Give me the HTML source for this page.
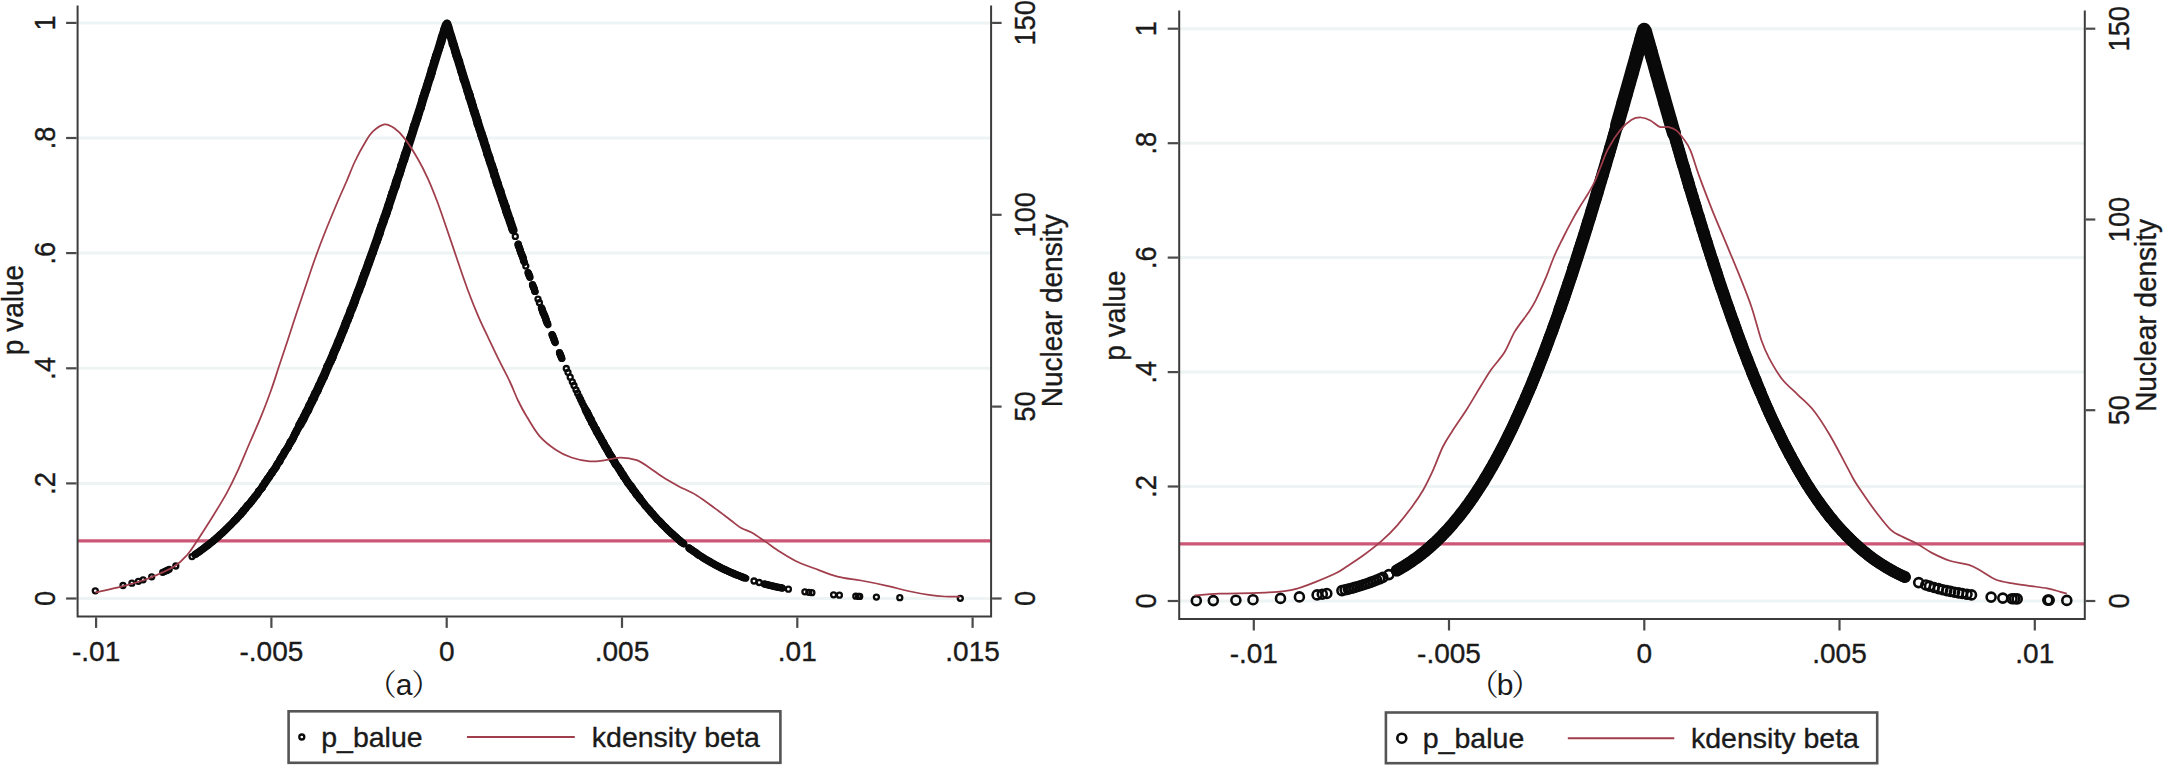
<!DOCTYPE html>
<html><head><meta charset="utf-8"><title>Placebo test</title>
<style>html,body{margin:0;padding:0;background:#fff}svg{display:block}</style>
</head><body>
<svg width="2165" height="766" viewBox="0 0 2165 766">
<rect width="2165" height="766" fill="#ffffff"/>
<g id="chart-a">
<line x1="77.6" y1="598.5" x2="991.1" y2="598.5" stroke="#eef3f3" stroke-width="3.0"/>
<line x1="77.6" y1="483.4" x2="991.1" y2="483.4" stroke="#eef3f3" stroke-width="3.0"/>
<line x1="77.6" y1="368.3" x2="991.1" y2="368.3" stroke="#eef3f3" stroke-width="3.0"/>
<line x1="77.6" y1="253.1" x2="991.1" y2="253.1" stroke="#eef3f3" stroke-width="3.0"/>
<line x1="77.6" y1="138.0" x2="991.1" y2="138.0" stroke="#eef3f3" stroke-width="3.0"/>
<line x1="77.6" y1="22.9" x2="991.1" y2="22.9" stroke="#eef3f3" stroke-width="3.0"/>
<line x1="77.6" y1="540.9" x2="991.1" y2="540.9" stroke="#cc5676" stroke-width="3.2"/>
<path d="M195.0 554.6 L196.0 553.9 L197.0 553.2 L198.0 552.5 L199.0 551.8 L200.0 551.1 L201.0 550.4 L202.0 549.7 L203.0 548.9 L204.0 548.2 L205.0 547.4 L206.0 546.7 L207.0 545.9 L208.0 545.1 L209.0 544.3 L210.0 543.5 L211.0 542.7 L212.0 541.9 L213.0 541.1 L214.0 540.2 L215.0 539.4 L216.0 538.5 L217.0 537.6 L218.0 536.8 L219.0 535.9 L220.0 535.0 L221.0 534.1 L222.0 533.1 L223.0 532.2 L224.0 531.3 L225.0 530.3 L226.0 529.4 L227.0 528.4 L228.0 527.4 L229.0 526.4 L230.0 525.4 L231.0 524.4 L232.0 523.4 L233.0 522.3 L234.0 521.3 L235.0 520.2" fill="none" stroke="#0a0a0a" stroke-width="6.6" stroke-linecap="round" stroke-linejoin="round"/>
<path d="M235.0 520.2 L236.0 519.2 L237.0 518.1 L238.0 517.0 L239.0 515.9 L240.0 514.8 L241.0 513.6 L242.0 512.5 L243.0 511.3 L244.0 510.2 L245.0 509.0 L246.0 507.8 L247.0 506.6 L248.0 505.4 L249.0 504.2 L250.0 503.0 L251.0 501.7 L252.0 500.5 L253.0 499.2 L254.0 497.9 L255.0 496.6 L256.0 495.3 L257.0 494.0 L258.0 492.7 L259.0 491.3 L260.0 490.0 L261.0 488.6 L262.0 487.2 L263.0 485.8 L264.0 484.4 L265.0 483.0 L266.0 481.6 L267.0 480.1 L268.0 478.7 L269.0 477.2 L270.0 475.7 L271.0 474.2 L272.0 472.7 L273.0 471.2 L274.0 469.6 L275.0 468.1 L276.0 466.5 L277.0 464.9 L278.0 463.3 L279.0 461.7 L280.0 460.1 L281.0 458.5 L282.0 456.9 L283.0 455.2 L284.0 453.5 L285.0 451.8 L286.0 450.1 L287.0 448.4 L288.0 446.7 L289.0 445.0 L290.0 443.2 L291.0 441.5 L292.0 439.7 L293.0 437.9 L294.0 436.1 L295.0 434.2 L296.0 432.4 L297.0 430.6 L298.0 428.7 L299.0 426.8 L300.0 424.9" fill="none" stroke="#0a0a0a" stroke-width="7.6" stroke-linecap="round" stroke-linejoin="round"/>
<path d="M300.0 424.9 L301.0 423.0 L302.0 421.1 L303.0 419.2 L304.0 417.2 L305.0 415.3 L306.0 413.3 L307.0 411.3 L308.0 409.3 L309.0 407.3 L310.0 405.3 L311.0 403.2 L312.0 401.2 L313.0 399.1 L314.0 397.0 L315.0 394.9 L316.0 392.8 L317.0 390.7 L318.0 388.6 L319.0 386.4 L320.0 384.2 L321.0 382.1 L322.0 379.9 L323.0 377.7 L324.0 375.4 L325.0 373.2 L326.0 371.0 L327.0 368.7 L328.0 366.4 L329.0 364.1 L330.0 361.8 L331.0 359.5 L332.0 357.2 L333.0 354.9 L334.0 352.5 L335.0 350.1 L336.0 347.8 L337.0 345.4 L338.0 343.0 L339.0 340.5 L340.0 338.1 L341.0 335.7 L342.0 333.2 L343.0 330.7 L344.0 328.2 L345.0 325.8 L346.0 323.2 L347.0 320.7 L348.0 318.2 L349.0 315.6 L350.0 313.1 L351.0 310.5 L352.0 307.9 L353.0 305.3 L354.0 302.7 L355.0 300.1 L356.0 297.5 L357.0 294.8 L358.0 292.2 L359.0 289.5 L360.0 286.8 L361.0 284.1 L362.0 281.4 L363.0 278.7 L364.0 276.0 L365.0 273.3 L366.0 270.5 L367.0 267.8 L368.0 265.0 L369.0 262.2 L370.0 259.4 L371.0 256.6 L372.0 253.8 L373.0 251.0 L374.0 248.2 L375.0 245.3 L376.0 242.5 L377.0 239.6 L378.0 236.7 L379.0 233.8 L380.0 231.0 L381.0 228.1 L382.0 225.1 L383.0 222.2 L384.0 219.3 L385.0 216.4 L386.0 213.4 L387.0 210.5 L388.0 207.5 L389.0 204.5 L390.0 201.5 L391.0 198.5 L392.0 195.5 L393.0 192.5 L394.0 189.5 L395.0 186.5 L396.0 183.5 L397.0 180.4 L398.0 177.4 L399.0 174.3 L400.0 171.3 L401.0 168.2 L402.0 165.1 L403.0 162.0 L404.0 159.0 L405.0 155.9 L406.0 152.8 L407.0 149.7 L408.0 146.5 L409.0 143.4 L410.0 140.3 L411.0 137.2 L412.0 134.0 L413.0 130.9 L414.0 127.7 L415.0 124.6 L416.0 121.4 L417.0 118.3 L418.0 115.1 L419.0 111.9 L420.0 108.8 L421.0 105.6 L422.0 102.4 L423.0 99.2 L424.0 96.0 L425.0 92.8 L426.0 89.6 L427.0 86.4 L428.0 83.2 L429.0 80.0 L430.0 76.8 L431.0 73.6 L432.0 70.4 L433.0 67.1 L434.0 63.9 L435.0 60.7 L436.0 57.5 L437.0 54.2 L438.0 51.0 L439.0 47.8 L440.0 44.6 L441.0 41.3 L442.0 38.1 L443.0 34.9 L444.0 31.6 L445.0 28.4 L446.0 25.2 L447.0 23.9 L448.0 27.1 L449.0 30.3 L450.0 33.6 L451.0 36.8 L452.0 40.0 L453.0 43.3 L454.0 46.5 L455.0 49.7 L456.0 53.0 L457.0 56.2 L458.0 59.4 L459.0 62.6 L460.0 65.9 L461.0 69.1 L462.0 72.3 L463.0 75.5 L464.0 78.7 L465.0 81.9 L466.0 85.1 L467.0 88.3 L468.0 91.5 L469.0 94.7 L470.0 97.9 L471.0 101.1 L472.0 104.3 L473.0 107.5 L474.0 110.7 L475.0 113.8 L476.0 117.0 L477.0 120.2 L478.0 123.3 L479.0 126.5 L480.0 129.6 L481.0 132.8 L482.0 135.9 L483.0 139.0 L484.0 142.2 L485.0 145.3 L486.0 148.4 L487.0 151.5 L488.0 154.6 L489.0 157.7 L490.0 160.8 L491.0 163.9 L492.0 167.0 L493.0 170.0 L494.0 173.1 L495.0 176.2 L496.0 179.2 L497.0 182.3 L498.0 185.3 L499.0 188.3 L500.0 191.3 L501.0 194.3 L502.0 197.3 L503.0 200.3 L504.0 203.3 L505.0 206.3 L506.0 209.3 L507.0 212.2 L508.0 215.2 L509.0 218.1 L510.0 221.1 L511.0 224.0 L512.0 226.9 L513.0 229.8 L513.2 230.4" fill="none" stroke="#0a0a0a" stroke-width="8.8" stroke-linecap="round" stroke-linejoin="round"/>
<path d="M518.0 244.2 L519.0 247.0 L520.0 249.9 L521.0 252.7 L522.0 255.5 L523.0 258.3 L524.0 261.1 L524.5 262.5" fill="none" stroke="#0a0a0a" stroke-width="7.0" stroke-linecap="round" stroke-linejoin="round"/>
<path d="M541.4 307.9 L542.4 310.5 L543.4 313.1 L544.4 315.6 L545.4 318.2 L546.4 320.7 L547.4 323.2 L548.0 324.8" fill="none" stroke="#0a0a0a" stroke-width="7.0" stroke-linecap="round" stroke-linejoin="round"/>
<path d="M552.0 334.7 L553.0 337.1 L554.0 339.6 L555.0 342.0 L555.3 342.7" fill="none" stroke="#0a0a0a" stroke-width="7.0" stroke-linecap="round" stroke-linejoin="round"/>
<path d="M528.2 272.7 L529.2 275.5 L529.9 277.4" fill="none" stroke="#0a0a0a" stroke-width="6.8" stroke-linecap="round" stroke-linejoin="round"/>
<path d="M532.6 284.7 L533.6 287.4 L534.6 290.0 L535.2 291.6" fill="none" stroke="#0a0a0a" stroke-width="6.8" stroke-linecap="round" stroke-linejoin="round"/>
<path d="M559.5 352.7 L560.5 355.1 L561.5 357.4 L562.0 358.6" fill="none" stroke="#0a0a0a" stroke-width="6.8" stroke-linecap="round" stroke-linejoin="round"/>
<path d="M585.8 410.1 L586.8 412.1 L587.8 414.1 L588.8 416.1 L589.8 418.0 L590.8 420.0 L591.8 421.9 L592.8 423.8 L593.8 425.7 L594.8 427.6 L595.8 429.4 L596.8 431.3 L597.8 433.1 L598.8 435.0 L599.8 436.8 L600.8 438.6 L601.8 440.4 L602.8 442.2 L603.8 443.9 L604.8 445.7 L605.8 447.4 L606.8 449.1 L607.8 450.8 L608.8 452.5 L609.8 454.2 L610.8 455.9 L611.8 457.5 L612.8 459.2 L613.8 460.8 L614.8 462.4 L615.8 464.0 L616.8 465.6 L617.8 467.1 L618.8 468.7 L619.8 470.2 L620.8 471.8 L621.8 473.3 L622.8 474.8 L623.8 476.3 L624.8 477.8 L625.8 479.2 L626.8 480.7 L627.8 482.1 L628.8 483.6 L629.8 485.0 L630.8 486.4 L631.8 487.8 L632.8 489.1 L633.8 490.5 L634.8 491.9 L635.8 493.2 L636.8 494.5 L637.8 495.8 L638.8 497.1 L639.8 498.4 L640.0 498.7" fill="none" stroke="#0a0a0a" stroke-width="8.0" stroke-linecap="round" stroke-linejoin="round"/>
<path d="M640.0 498.7 L641.0 500.0 L642.0 501.2 L643.0 502.5 L644.0 503.7 L645.0 504.9 L646.0 506.2 L647.0 507.4 L648.0 508.5 L649.0 509.7 L650.0 510.9 L651.0 512.0 L652.0 513.2 L653.0 514.3 L654.0 515.4 L655.0 516.5 L656.0 517.6 L657.0 518.7 L658.0 519.8 L659.0 520.9 L660.0 521.9 L661.0 523.0 L662.0 524.0 L663.0 525.0 L664.0 526.0 L665.0 527.0 L666.0 528.0 L667.0 529.0 L668.0 529.9 L669.0 530.9 L670.0 531.8 L671.0 532.8 L672.0 533.7 L673.0 534.6 L674.0 535.5 L675.0 536.4 L676.0 537.3 L677.0 538.2 L678.0 539.0 L679.0 539.9 L680.0 540.7 L681.0 541.6 L682.0 542.4 L683.0 543.2 L683.7 543.8" fill="none" stroke="#0a0a0a" stroke-width="7.3" stroke-linecap="round" stroke-linejoin="round"/>
<path d="M689.0 547.9 L690.0 548.6 L691.0 549.4 L692.0 550.1 L693.0 550.8 L694.0 551.5 L695.0 552.3 L696.0 552.9 L697.0 553.6 L698.0 554.3 L699.0 555.0 L700.0 555.7 L701.0 556.3 L702.0 557.0 L703.0 557.6 L704.0 558.2 L705.0 558.8 L706.0 559.5 L707.0 560.1 L708.0 560.7 L709.0 561.3 L710.0 561.8 L711.0 562.4 L712.0 563.0 L713.0 563.5 L714.0 564.1 L715.0 564.6 L716.0 565.2 L717.0 565.7 L718.0 566.2 L719.0 566.8 L720.0 567.3 L721.0 567.8 L722.0 568.3 L723.0 568.8 L724.0 569.2 L725.0 569.7 L726.0 570.2 L727.0 570.7 L728.0 571.1 L729.0 571.6 L730.0 572.0 L731.0 572.4 L732.0 572.9 L733.0 573.3 L734.0 573.7 L735.0 574.1 L736.0 574.6 L737.0 575.0 L738.0 575.4 L739.0 575.7 L740.0 576.1 L741.0 576.5 L742.0 576.9 L743.0 577.3 L744.0 577.6 L745.0 578.0 L746.0 578.3" fill="none" stroke="#0a0a0a" stroke-width="6.8" stroke-linecap="round" stroke-linejoin="round"/>
<path d="M764.4 584.0 L765.4 584.2 L766.4 584.5 L767.4 584.7 L768.4 585.0 L769.4 585.2 L770.4 585.5 L771.4 585.7 L772.4 585.9 L773.4 586.2 L774.4 586.4 L775.4 586.6 L776.4 586.9 L777.4 587.1 L778.4 587.3 L779.4 587.5 L780.4 587.7 L781.4 587.9 L782.4 588.1 L782.7 588.2" fill="none" stroke="#0a0a0a" stroke-width="6.5" stroke-linecap="round" stroke-linejoin="round"/>
<g fill="none" stroke="#0a0a0a" stroke-width="2.3">
<circle cx="194.9" cy="554.6" r="2.5"/>
<circle cx="195.9" cy="553.9" r="2.5"/>
<circle cx="197.2" cy="553.1" r="2.5"/>
<circle cx="198.1" cy="552.4" r="2.5"/>
<circle cx="199.3" cy="551.6" r="2.5"/>
<circle cx="200.3" cy="550.9" r="2.5"/>
<circle cx="201.2" cy="550.1" r="2.5"/>
<circle cx="202.5" cy="549.3" r="2.5"/>
<circle cx="203.3" cy="548.6" r="2.5"/>
<circle cx="204.5" cy="547.8" r="2.5"/>
<circle cx="205.4" cy="547.0" r="2.5"/>
<circle cx="206.5" cy="546.2" r="2.5"/>
<circle cx="207.6" cy="545.4" r="2.5"/>
<circle cx="208.8" cy="544.6" r="2.5"/>
<circle cx="209.5" cy="543.8" r="2.5"/>
<circle cx="210.6" cy="543.0" r="2.5"/>
<circle cx="211.8" cy="542.1" r="2.5"/>
<circle cx="212.9" cy="541.3" r="2.5"/>
<circle cx="213.7" cy="540.5" r="2.5"/>
<circle cx="214.7" cy="539.6" r="2.5"/>
<circle cx="215.9" cy="538.8" r="2.5"/>
<circle cx="216.5" cy="537.9" r="2.5"/>
<circle cx="217.8" cy="537.1" r="2.5"/>
<circle cx="218.6" cy="536.2" r="2.5"/>
<circle cx="219.5" cy="535.3" r="2.5"/>
<circle cx="220.4" cy="534.5" r="2.5"/>
<circle cx="221.5" cy="533.6" r="2.5"/>
<circle cx="222.6" cy="532.7" r="2.5"/>
<circle cx="223.3" cy="531.8" r="2.5"/>
<circle cx="224.4" cy="530.9" r="2.5"/>
<circle cx="225.4" cy="530.0" r="2.5"/>
<circle cx="226.2" cy="529.1" r="2.5"/>
<circle cx="227.2" cy="528.2" r="2.5"/>
<circle cx="228.0" cy="527.3" r="2.5"/>
<circle cx="228.9" cy="526.4" r="2.5"/>
<circle cx="229.9" cy="525.4" r="2.5"/>
<circle cx="231.0" cy="524.5" r="2.5"/>
<circle cx="231.8" cy="523.6" r="2.5"/>
<circle cx="232.6" cy="522.6" r="2.5"/>
<circle cx="233.6" cy="521.7" r="2.5"/>
<circle cx="234.5" cy="520.8" r="2.5"/>
<circle cx="234.8" cy="520.2" r="2.5"/>
<circle cx="236.2" cy="519.3" r="2.5"/>
<circle cx="237.0" cy="518.3" r="2.5"/>
<circle cx="237.4" cy="517.4" r="2.5"/>
<circle cx="238.6" cy="516.4" r="2.5"/>
<circle cx="239.4" cy="515.4" r="2.5"/>
<circle cx="240.7" cy="514.5" r="2.5"/>
<circle cx="241.4" cy="513.5" r="2.5"/>
<circle cx="241.7" cy="512.5" r="2.5"/>
<circle cx="243.4" cy="511.5" r="2.5"/>
<circle cx="243.2" cy="510.5" r="2.5"/>
<circle cx="244.5" cy="509.5" r="2.5"/>
<circle cx="245.7" cy="508.5" r="2.5"/>
<circle cx="245.8" cy="507.6" r="2.5"/>
<circle cx="247.1" cy="506.5" r="2.5"/>
<circle cx="247.3" cy="505.5" r="2.5"/>
<circle cx="248.9" cy="504.5" r="2.5"/>
<circle cx="249.9" cy="503.5" r="2.5"/>
<circle cx="250.5" cy="502.5" r="2.5"/>
<circle cx="251.6" cy="501.5" r="2.5"/>
<circle cx="251.8" cy="500.5" r="2.5"/>
<circle cx="253.0" cy="499.5" r="2.5"/>
<circle cx="253.7" cy="498.4" r="2.5"/>
<circle cx="254.5" cy="497.4" r="2.5"/>
<circle cx="255.1" cy="496.4" r="2.5"/>
<circle cx="256.4" cy="495.3" r="2.5"/>
<circle cx="257.3" cy="494.3" r="2.5"/>
<circle cx="257.5" cy="493.3" r="2.5"/>
<circle cx="258.5" cy="492.2" r="2.5"/>
<circle cx="258.6" cy="491.2" r="2.5"/>
<circle cx="260.1" cy="490.1" r="2.5"/>
<circle cx="260.8" cy="489.1" r="2.5"/>
<circle cx="262.0" cy="488.0" r="2.5"/>
<circle cx="262.6" cy="487.0" r="2.5"/>
<circle cx="262.7" cy="485.9" r="2.5"/>
<circle cx="263.6" cy="484.8" r="2.5"/>
<circle cx="264.7" cy="483.8" r="2.5"/>
<circle cx="264.6" cy="482.7" r="2.5"/>
<circle cx="265.9" cy="481.6" r="2.5"/>
<circle cx="266.3" cy="480.6" r="2.5"/>
<circle cx="267.0" cy="479.5" r="2.5"/>
<circle cx="267.6" cy="478.4" r="2.5"/>
<circle cx="269.2" cy="477.3" r="2.5"/>
<circle cx="269.2" cy="476.3" r="2.5"/>
<circle cx="270.1" cy="475.2" r="2.5"/>
<circle cx="270.9" cy="474.1" r="2.5"/>
<circle cx="272.2" cy="473.0" r="2.5"/>
<circle cx="272.0" cy="471.9" r="2.5"/>
<circle cx="273.2" cy="470.8" r="2.5"/>
<circle cx="274.0" cy="469.7" r="2.5"/>
<circle cx="275.1" cy="468.6" r="2.5"/>
<circle cx="275.7" cy="467.5" r="2.5"/>
<circle cx="276.5" cy="466.4" r="2.5"/>
<circle cx="276.5" cy="465.3" r="2.5"/>
<circle cx="277.3" cy="464.2" r="2.5"/>
<circle cx="278.0" cy="463.1" r="2.5"/>
<circle cx="279.3" cy="462.0" r="2.5"/>
<circle cx="280.1" cy="460.9" r="2.5"/>
<circle cx="279.8" cy="459.8" r="2.5"/>
<circle cx="280.5" cy="458.7" r="2.5"/>
<circle cx="281.2" cy="457.6" r="2.5"/>
<circle cx="281.9" cy="456.5" r="2.5"/>
<circle cx="282.9" cy="455.4" r="2.5"/>
<circle cx="283.7" cy="454.2" r="2.5"/>
<circle cx="284.0" cy="453.1" r="2.5"/>
<circle cx="284.3" cy="452.0" r="2.5"/>
<circle cx="285.5" cy="450.9" r="2.5"/>
<circle cx="286.1" cy="449.8" r="2.5"/>
<circle cx="287.0" cy="448.6" r="2.5"/>
<circle cx="288.1" cy="447.5" r="2.5"/>
<circle cx="288.4" cy="446.4" r="2.5"/>
<circle cx="288.9" cy="445.3" r="2.5"/>
<circle cx="289.6" cy="444.1" r="2.5"/>
<circle cx="290.3" cy="443.0" r="2.5"/>
<circle cx="290.2" cy="441.9" r="2.5"/>
<circle cx="291.9" cy="440.7" r="2.5"/>
<circle cx="292.4" cy="439.6" r="2.5"/>
<circle cx="293.1" cy="438.5" r="2.5"/>
<circle cx="293.7" cy="437.3" r="2.5"/>
<circle cx="293.8" cy="436.2" r="2.5"/>
<circle cx="294.4" cy="435.0" r="2.5"/>
<circle cx="294.7" cy="433.9" r="2.5"/>
<circle cx="296.0" cy="432.7" r="2.5"/>
<circle cx="295.9" cy="431.6" r="2.5"/>
<circle cx="296.5" cy="430.5" r="2.5"/>
<circle cx="297.3" cy="429.3" r="2.5"/>
<circle cx="297.9" cy="428.2" r="2.5"/>
<circle cx="298.7" cy="427.0" r="2.5"/>
<circle cx="299.0" cy="425.9" r="2.5"/>
<circle cx="299.0" cy="424.9" r="2.5"/>
<circle cx="299.9" cy="423.8" r="2.5"/>
<circle cx="300.4" cy="422.6" r="2.5"/>
<circle cx="301.5" cy="421.5" r="2.5"/>
<circle cx="301.5" cy="420.3" r="2.5"/>
<circle cx="303.8" cy="419.2" r="2.5"/>
<circle cx="303.8" cy="418.0" r="2.5"/>
<circle cx="303.5" cy="416.8" r="2.5"/>
<circle cx="304.3" cy="415.7" r="2.5"/>
<circle cx="305.1" cy="414.5" r="2.5"/>
<circle cx="305.7" cy="413.4" r="2.5"/>
<circle cx="305.8" cy="412.2" r="2.5"/>
<circle cx="307.8" cy="411.0" r="2.5"/>
<circle cx="308.7" cy="409.9" r="2.5"/>
<circle cx="308.2" cy="408.7" r="2.5"/>
<circle cx="308.9" cy="407.5" r="2.5"/>
<circle cx="308.6" cy="406.4" r="2.5"/>
<circle cx="309.2" cy="405.2" r="2.5"/>
<circle cx="310.3" cy="404.0" r="2.5"/>
<circle cx="310.7" cy="402.9" r="2.5"/>
<circle cx="312.4" cy="401.7" r="2.5"/>
<circle cx="311.6" cy="400.5" r="2.5"/>
<circle cx="311.9" cy="399.4" r="2.5"/>
<circle cx="314.4" cy="398.2" r="2.5"/>
<circle cx="314.1" cy="397.0" r="2.5"/>
<circle cx="313.9" cy="395.8" r="2.5"/>
<circle cx="315.2" cy="394.7" r="2.5"/>
<circle cx="314.7" cy="393.5" r="2.5"/>
<circle cx="316.3" cy="392.3" r="2.5"/>
<circle cx="317.8" cy="391.1" r="2.5"/>
<circle cx="318.1" cy="389.9" r="2.5"/>
<circle cx="318.3" cy="388.8" r="2.5"/>
<circle cx="318.0" cy="387.6" r="2.5"/>
<circle cx="318.7" cy="386.4" r="2.5"/>
<circle cx="318.9" cy="385.2" r="2.5"/>
<circle cx="320.6" cy="384.0" r="2.5"/>
<circle cx="320.7" cy="382.9" r="2.5"/>
<circle cx="321.7" cy="381.7" r="2.5"/>
<circle cx="321.4" cy="380.5" r="2.5"/>
<circle cx="321.7" cy="379.3" r="2.5"/>
<circle cx="323.4" cy="378.1" r="2.5"/>
<circle cx="324.3" cy="376.9" r="2.5"/>
<circle cx="324.6" cy="375.7" r="2.5"/>
<circle cx="325.0" cy="374.6" r="2.5"/>
<circle cx="325.6" cy="373.4" r="2.5"/>
<circle cx="325.9" cy="372.2" r="2.5"/>
<circle cx="325.4" cy="371.0" r="2.5"/>
<circle cx="326.6" cy="369.8" r="2.5"/>
<circle cx="326.8" cy="368.6" r="2.5"/>
<circle cx="326.6" cy="367.4" r="2.5"/>
<circle cx="327.1" cy="366.2" r="2.5"/>
<circle cx="328.2" cy="365.0" r="2.5"/>
<circle cx="328.6" cy="363.8" r="2.5"/>
<circle cx="330.0" cy="362.6" r="2.5"/>
<circle cx="331.1" cy="361.5" r="2.5"/>
<circle cx="330.6" cy="360.3" r="2.5"/>
<circle cx="332.1" cy="359.1" r="2.5"/>
<circle cx="332.7" cy="357.9" r="2.5"/>
<circle cx="333.1" cy="356.7" r="2.5"/>
<circle cx="332.5" cy="355.5" r="2.5"/>
<circle cx="332.7" cy="354.3" r="2.5"/>
<circle cx="333.2" cy="353.1" r="2.5"/>
<circle cx="333.7" cy="351.9" r="2.5"/>
<circle cx="334.2" cy="350.7" r="2.5"/>
<circle cx="335.5" cy="349.5" r="2.5"/>
<circle cx="336.6" cy="348.3" r="2.5"/>
<circle cx="337.0" cy="347.1" r="2.5"/>
<circle cx="336.7" cy="345.9" r="2.5"/>
<circle cx="337.6" cy="344.7" r="2.5"/>
<circle cx="338.4" cy="343.5" r="2.5"/>
<circle cx="337.5" cy="342.3" r="2.5"/>
<circle cx="339.1" cy="341.1" r="2.5"/>
<circle cx="340.1" cy="339.9" r="2.5"/>
<circle cx="340.3" cy="338.7" r="2.5"/>
<circle cx="340.8" cy="337.5" r="2.5"/>
<circle cx="340.7" cy="336.3" r="2.5"/>
<circle cx="340.6" cy="335.1" r="2.5"/>
<circle cx="342.3" cy="333.8" r="2.5"/>
<circle cx="341.9" cy="332.6" r="2.5"/>
<circle cx="343.3" cy="331.4" r="2.5"/>
<circle cx="344.1" cy="330.2" r="2.5"/>
<circle cx="343.5" cy="329.0" r="2.5"/>
<circle cx="344.0" cy="327.8" r="2.5"/>
<circle cx="345.6" cy="326.6" r="2.5"/>
<circle cx="345.6" cy="325.4" r="2.5"/>
<circle cx="345.0" cy="324.2" r="2.5"/>
<circle cx="345.4" cy="323.0" r="2.5"/>
<circle cx="345.9" cy="321.8" r="2.5"/>
<circle cx="347.9" cy="320.6" r="2.5"/>
<circle cx="348.2" cy="319.3" r="2.5"/>
<circle cx="347.3" cy="318.1" r="2.5"/>
<circle cx="349.1" cy="316.9" r="2.5"/>
<circle cx="349.9" cy="315.7" r="2.5"/>
<circle cx="349.8" cy="314.5" r="2.5"/>
<circle cx="349.6" cy="313.3" r="2.5"/>
<circle cx="350.5" cy="312.1" r="2.5"/>
<circle cx="350.1" cy="310.9" r="2.5"/>
<circle cx="350.4" cy="309.7" r="2.5"/>
<circle cx="352.7" cy="308.4" r="2.5"/>
<circle cx="352.6" cy="307.2" r="2.5"/>
<circle cx="352.8" cy="306.0" r="2.5"/>
<circle cx="354.1" cy="304.8" r="2.5"/>
<circle cx="353.5" cy="303.6" r="2.5"/>
<circle cx="354.9" cy="302.4" r="2.5"/>
<circle cx="355.3" cy="301.2" r="2.5"/>
<circle cx="354.5" cy="299.9" r="2.5"/>
<circle cx="355.0" cy="298.7" r="2.5"/>
<circle cx="355.6" cy="297.5" r="2.5"/>
<circle cx="355.9" cy="296.3" r="2.5"/>
<circle cx="357.1" cy="295.1" r="2.5"/>
<circle cx="356.9" cy="293.9" r="2.5"/>
<circle cx="357.7" cy="292.6" r="2.5"/>
<circle cx="357.5" cy="291.4" r="2.5"/>
<circle cx="359.6" cy="290.2" r="2.5"/>
<circle cx="358.9" cy="289.0" r="2.5"/>
<circle cx="359.6" cy="287.8" r="2.5"/>
<circle cx="360.3" cy="286.5" r="2.5"/>
<circle cx="361.4" cy="285.3" r="2.5"/>
<circle cx="360.9" cy="284.1" r="2.5"/>
<circle cx="362.3" cy="282.9" r="2.5"/>
<circle cx="361.9" cy="281.7" r="2.5"/>
<circle cx="362.4" cy="280.4" r="2.5"/>
<circle cx="362.9" cy="279.2" r="2.5"/>
<circle cx="362.3" cy="278.0" r="2.5"/>
<circle cx="363.6" cy="276.8" r="2.5"/>
<circle cx="363.5" cy="275.6" r="2.5"/>
<circle cx="363.6" cy="274.3" r="2.5"/>
<circle cx="365.7" cy="273.1" r="2.5"/>
<circle cx="364.8" cy="271.9" r="2.5"/>
<circle cx="365.9" cy="270.7" r="2.5"/>
<circle cx="366.8" cy="269.4" r="2.5"/>
<circle cx="366.9" cy="268.2" r="2.5"/>
<circle cx="366.9" cy="267.0" r="2.5"/>
<circle cx="367.8" cy="265.8" r="2.5"/>
<circle cx="368.3" cy="264.5" r="2.5"/>
<circle cx="369.2" cy="263.3" r="2.5"/>
<circle cx="368.3" cy="262.1" r="2.5"/>
<circle cx="369.6" cy="260.9" r="2.5"/>
<circle cx="369.4" cy="259.7" r="2.5"/>
<circle cx="369.9" cy="258.4" r="2.5"/>
<circle cx="371.3" cy="257.2" r="2.5"/>
<circle cx="371.2" cy="256.0" r="2.5"/>
<circle cx="371.8" cy="254.7" r="2.5"/>
<circle cx="372.6" cy="253.5" r="2.5"/>
<circle cx="373.4" cy="252.3" r="2.5"/>
<circle cx="372.9" cy="251.1" r="2.5"/>
<circle cx="373.6" cy="249.8" r="2.5"/>
<circle cx="373.8" cy="248.6" r="2.5"/>
<circle cx="374.3" cy="247.4" r="2.5"/>
<circle cx="375.1" cy="246.2" r="2.5"/>
<circle cx="375.0" cy="244.9" r="2.5"/>
<circle cx="375.6" cy="243.7" r="2.5"/>
<circle cx="376.0" cy="242.5" r="2.5"/>
<circle cx="377.3" cy="241.3" r="2.5"/>
<circle cx="377.3" cy="240.0" r="2.5"/>
<circle cx="378.0" cy="238.8" r="2.5"/>
<circle cx="378.6" cy="237.6" r="2.5"/>
<circle cx="377.7" cy="236.3" r="2.5"/>
<circle cx="378.7" cy="235.1" r="2.5"/>
<circle cx="379.9" cy="233.9" r="2.5"/>
<circle cx="380.1" cy="232.7" r="2.5"/>
<circle cx="379.1" cy="231.4" r="2.5"/>
<circle cx="379.5" cy="230.2" r="2.5"/>
<circle cx="380.6" cy="229.0" r="2.5"/>
<circle cx="380.3" cy="227.7" r="2.5"/>
<circle cx="381.0" cy="226.5" r="2.5"/>
<circle cx="381.1" cy="225.3" r="2.5"/>
<circle cx="382.7" cy="224.0" r="2.5"/>
<circle cx="383.4" cy="222.8" r="2.5"/>
<circle cx="384.0" cy="221.6" r="2.5"/>
<circle cx="382.9" cy="220.3" r="2.5"/>
<circle cx="384.5" cy="219.1" r="2.5"/>
<circle cx="384.8" cy="217.9" r="2.5"/>
<circle cx="384.2" cy="216.7" r="2.5"/>
<circle cx="386.1" cy="215.4" r="2.5"/>
<circle cx="386.7" cy="214.2" r="2.5"/>
<circle cx="385.6" cy="213.0" r="2.5"/>
<circle cx="387.5" cy="211.7" r="2.5"/>
<circle cx="386.8" cy="210.5" r="2.5"/>
<circle cx="387.4" cy="209.3" r="2.5"/>
<circle cx="388.8" cy="208.0" r="2.5"/>
<circle cx="388.9" cy="206.8" r="2.5"/>
<circle cx="388.0" cy="205.6" r="2.5"/>
<circle cx="388.9" cy="204.3" r="2.5"/>
<circle cx="389.5" cy="203.1" r="2.5"/>
<circle cx="389.6" cy="201.9" r="2.5"/>
<circle cx="389.7" cy="200.6" r="2.5"/>
<circle cx="390.4" cy="199.4" r="2.5"/>
<circle cx="391.6" cy="198.2" r="2.5"/>
<circle cx="390.6" cy="196.9" r="2.5"/>
<circle cx="392.1" cy="195.7" r="2.5"/>
<circle cx="392.2" cy="194.5" r="2.5"/>
<circle cx="391.8" cy="193.2" r="2.5"/>
<circle cx="392.8" cy="192.0" r="2.5"/>
<circle cx="393.8" cy="190.8" r="2.5"/>
<circle cx="394.0" cy="189.5" r="2.5"/>
<circle cx="393.5" cy="188.3" r="2.5"/>
<circle cx="395.8" cy="187.1" r="2.5"/>
<circle cx="395.8" cy="185.8" r="2.5"/>
<circle cx="396.6" cy="184.6" r="2.5"/>
<circle cx="395.2" cy="183.4" r="2.5"/>
<circle cx="396.0" cy="182.1" r="2.5"/>
<circle cx="395.9" cy="180.9" r="2.5"/>
<circle cx="397.8" cy="179.6" r="2.5"/>
<circle cx="397.2" cy="178.4" r="2.5"/>
<circle cx="397.3" cy="177.2" r="2.5"/>
<circle cx="398.3" cy="175.9" r="2.5"/>
<circle cx="399.7" cy="174.7" r="2.5"/>
<circle cx="399.9" cy="173.5" r="2.5"/>
<circle cx="399.2" cy="172.2" r="2.5"/>
<circle cx="399.4" cy="171.0" r="2.5"/>
<circle cx="401.3" cy="169.8" r="2.5"/>
<circle cx="401.0" cy="168.5" r="2.5"/>
<circle cx="401.7" cy="167.3" r="2.5"/>
<circle cx="400.9" cy="166.0" r="2.5"/>
<circle cx="401.2" cy="164.8" r="2.5"/>
<circle cx="402.9" cy="163.6" r="2.5"/>
<circle cx="402.8" cy="162.3" r="2.5"/>
<circle cx="402.5" cy="161.1" r="2.5"/>
<circle cx="404.6" cy="159.9" r="2.5"/>
<circle cx="404.4" cy="158.6" r="2.5"/>
<circle cx="405.1" cy="157.4" r="2.5"/>
<circle cx="404.1" cy="156.1" r="2.5"/>
<circle cx="406.0" cy="154.9" r="2.5"/>
<circle cx="404.8" cy="153.7" r="2.5"/>
<circle cx="406.8" cy="152.4" r="2.5"/>
<circle cx="406.4" cy="151.2" r="2.5"/>
<circle cx="406.6" cy="150.0" r="2.5"/>
<circle cx="407.4" cy="148.7" r="2.5"/>
<circle cx="408.6" cy="147.5" r="2.5"/>
<circle cx="407.6" cy="146.2" r="2.5"/>
<circle cx="407.7" cy="145.0" r="2.5"/>
<circle cx="408.9" cy="143.8" r="2.5"/>
<circle cx="408.8" cy="142.5" r="2.5"/>
<circle cx="408.9" cy="141.3" r="2.5"/>
<circle cx="409.4" cy="140.1" r="2.5"/>
<circle cx="409.6" cy="138.8" r="2.5"/>
<circle cx="410.3" cy="137.6" r="2.5"/>
<circle cx="410.9" cy="136.3" r="2.5"/>
<circle cx="411.3" cy="135.1" r="2.5"/>
<circle cx="412.6" cy="133.9" r="2.5"/>
<circle cx="412.0" cy="132.6" r="2.5"/>
<circle cx="412.8" cy="131.4" r="2.5"/>
<circle cx="412.6" cy="130.1" r="2.5"/>
<circle cx="413.3" cy="128.9" r="2.5"/>
<circle cx="413.1" cy="127.7" r="2.5"/>
<circle cx="413.9" cy="126.4" r="2.5"/>
<circle cx="413.8" cy="125.2" r="2.5"/>
<circle cx="415.7" cy="123.9" r="2.5"/>
<circle cx="415.7" cy="122.7" r="2.5"/>
<circle cx="415.4" cy="121.5" r="2.5"/>
<circle cx="416.3" cy="120.2" r="2.5"/>
<circle cx="417.6" cy="119.0" r="2.5"/>
<circle cx="416.4" cy="117.7" r="2.5"/>
<circle cx="418.2" cy="116.5" r="2.5"/>
<circle cx="417.8" cy="115.3" r="2.5"/>
<circle cx="418.3" cy="114.0" r="2.5"/>
<circle cx="419.4" cy="112.8" r="2.5"/>
<circle cx="418.9" cy="111.5" r="2.5"/>
<circle cx="419.5" cy="110.3" r="2.5"/>
<circle cx="420.3" cy="109.1" r="2.5"/>
<circle cx="421.3" cy="107.8" r="2.5"/>
<circle cx="420.4" cy="106.6" r="2.5"/>
<circle cx="421.7" cy="105.3" r="2.5"/>
<circle cx="421.9" cy="104.1" r="2.5"/>
<circle cx="422.1" cy="102.9" r="2.5"/>
<circle cx="422.1" cy="101.6" r="2.5"/>
<circle cx="422.3" cy="100.4" r="2.5"/>
<circle cx="422.1" cy="99.1" r="2.5"/>
<circle cx="422.7" cy="97.9" r="2.5"/>
<circle cx="422.9" cy="96.7" r="2.5"/>
<circle cx="424.7" cy="95.4" r="2.5"/>
<circle cx="424.1" cy="94.2" r="2.5"/>
<circle cx="424.3" cy="92.9" r="2.5"/>
<circle cx="424.5" cy="91.7" r="2.5"/>
<circle cx="426.4" cy="90.5" r="2.5"/>
<circle cx="426.9" cy="89.2" r="2.5"/>
<circle cx="426.9" cy="88.0" r="2.5"/>
<circle cx="426.5" cy="86.7" r="2.5"/>
<circle cx="426.8" cy="85.5" r="2.5"/>
<circle cx="427.3" cy="84.2" r="2.5"/>
<circle cx="428.0" cy="83.0" r="2.5"/>
<circle cx="427.8" cy="81.8" r="2.5"/>
<circle cx="428.7" cy="80.5" r="2.5"/>
<circle cx="428.8" cy="79.3" r="2.5"/>
<circle cx="430.5" cy="78.0" r="2.5"/>
<circle cx="430.9" cy="76.8" r="2.5"/>
<circle cx="430.5" cy="75.6" r="2.5"/>
<circle cx="430.3" cy="74.3" r="2.5"/>
<circle cx="432.1" cy="73.1" r="2.5"/>
<circle cx="431.2" cy="71.8" r="2.5"/>
<circle cx="431.6" cy="70.6" r="2.5"/>
<circle cx="431.3" cy="69.4" r="2.5"/>
<circle cx="432.5" cy="68.1" r="2.5"/>
<circle cx="433.0" cy="66.9" r="2.5"/>
<circle cx="433.5" cy="65.6" r="2.5"/>
<circle cx="433.3" cy="64.4" r="2.5"/>
<circle cx="434.3" cy="63.1" r="2.5"/>
<circle cx="433.6" cy="61.9" r="2.5"/>
<circle cx="434.5" cy="60.7" r="2.5"/>
<circle cx="434.6" cy="59.4" r="2.5"/>
<circle cx="435.6" cy="58.2" r="2.5"/>
<circle cx="435.3" cy="56.9" r="2.5"/>
<circle cx="435.6" cy="55.7" r="2.5"/>
<circle cx="436.5" cy="54.4" r="2.5"/>
<circle cx="436.8" cy="53.2" r="2.5"/>
<circle cx="437.9" cy="52.0" r="2.5"/>
<circle cx="438.2" cy="50.7" r="2.5"/>
<circle cx="439.0" cy="49.5" r="2.5"/>
<circle cx="439.2" cy="48.2" r="2.5"/>
<circle cx="439.7" cy="47.0" r="2.5"/>
<circle cx="440.4" cy="45.8" r="2.5"/>
<circle cx="439.8" cy="44.5" r="2.5"/>
<circle cx="440.1" cy="43.3" r="2.5"/>
<circle cx="441.8" cy="42.0" r="2.5"/>
<circle cx="440.5" cy="40.8" r="2.5"/>
<circle cx="442.0" cy="39.5" r="2.5"/>
<circle cx="442.2" cy="38.3" r="2.5"/>
<circle cx="441.4" cy="37.1" r="2.5"/>
<circle cx="443.4" cy="35.8" r="2.5"/>
<circle cx="443.9" cy="34.6" r="2.5"/>
<circle cx="443.7" cy="33.3" r="2.5"/>
<circle cx="444.3" cy="32.1" r="2.5"/>
<circle cx="444.9" cy="30.9" r="2.5"/>
<circle cx="443.9" cy="29.6" r="2.5"/>
<circle cx="445.1" cy="28.4" r="2.5"/>
<circle cx="445.4" cy="27.1" r="2.5"/>
<circle cx="446.4" cy="25.9" r="2.5"/>
<circle cx="446.8" cy="24.6" r="2.5"/>
<circle cx="447.2" cy="23.4" r="2.5"/>
<circle cx="447.6" cy="25.4" r="2.5"/>
<circle cx="448.6" cy="26.6" r="2.5"/>
<circle cx="448.6" cy="27.9" r="2.5"/>
<circle cx="449.0" cy="29.1" r="2.5"/>
<circle cx="448.5" cy="30.3" r="2.5"/>
<circle cx="448.4" cy="31.6" r="2.5"/>
<circle cx="449.0" cy="32.8" r="2.5"/>
<circle cx="449.9" cy="34.1" r="2.5"/>
<circle cx="449.7" cy="35.3" r="2.5"/>
<circle cx="451.6" cy="36.5" r="2.5"/>
<circle cx="451.4" cy="37.8" r="2.5"/>
<circle cx="451.9" cy="39.0" r="2.5"/>
<circle cx="452.3" cy="40.3" r="2.5"/>
<circle cx="452.8" cy="41.5" r="2.5"/>
<circle cx="452.8" cy="42.8" r="2.5"/>
<circle cx="452.2" cy="44.0" r="2.5"/>
<circle cx="454.2" cy="45.2" r="2.5"/>
<circle cx="454.5" cy="46.5" r="2.5"/>
<circle cx="454.4" cy="47.7" r="2.5"/>
<circle cx="454.8" cy="49.0" r="2.5"/>
<circle cx="455.5" cy="50.2" r="2.5"/>
<circle cx="454.7" cy="51.5" r="2.5"/>
<circle cx="456.4" cy="52.7" r="2.5"/>
<circle cx="455.8" cy="53.9" r="2.5"/>
<circle cx="455.8" cy="55.2" r="2.5"/>
<circle cx="456.6" cy="56.4" r="2.5"/>
<circle cx="457.9" cy="57.7" r="2.5"/>
<circle cx="457.3" cy="58.9" r="2.5"/>
<circle cx="458.7" cy="60.1" r="2.5"/>
<circle cx="459.6" cy="61.4" r="2.5"/>
<circle cx="459.0" cy="62.6" r="2.5"/>
<circle cx="459.1" cy="63.9" r="2.5"/>
<circle cx="459.7" cy="65.1" r="2.5"/>
<circle cx="460.5" cy="66.3" r="2.5"/>
<circle cx="461.1" cy="67.6" r="2.5"/>
<circle cx="461.2" cy="68.8" r="2.5"/>
<circle cx="461.6" cy="70.1" r="2.5"/>
<circle cx="460.9" cy="71.3" r="2.5"/>
<circle cx="461.4" cy="72.6" r="2.5"/>
<circle cx="462.0" cy="73.8" r="2.5"/>
<circle cx="463.3" cy="75.0" r="2.5"/>
<circle cx="462.8" cy="76.3" r="2.5"/>
<circle cx="463.8" cy="77.5" r="2.5"/>
<circle cx="463.0" cy="78.8" r="2.5"/>
<circle cx="463.5" cy="80.0" r="2.5"/>
<circle cx="464.3" cy="81.2" r="2.5"/>
<circle cx="465.5" cy="82.5" r="2.5"/>
<circle cx="465.9" cy="83.7" r="2.5"/>
<circle cx="466.3" cy="85.0" r="2.5"/>
<circle cx="465.9" cy="86.2" r="2.5"/>
<circle cx="466.8" cy="87.4" r="2.5"/>
<circle cx="467.0" cy="88.7" r="2.5"/>
<circle cx="467.4" cy="89.9" r="2.5"/>
<circle cx="467.1" cy="91.2" r="2.5"/>
<circle cx="469.1" cy="92.4" r="2.5"/>
<circle cx="468.1" cy="93.6" r="2.5"/>
<circle cx="470.0" cy="94.9" r="2.5"/>
<circle cx="470.3" cy="96.1" r="2.5"/>
<circle cx="468.9" cy="97.4" r="2.5"/>
<circle cx="470.1" cy="98.6" r="2.5"/>
<circle cx="471.2" cy="99.9" r="2.5"/>
<circle cx="471.9" cy="101.1" r="2.5"/>
<circle cx="471.3" cy="102.3" r="2.5"/>
<circle cx="471.3" cy="103.6" r="2.5"/>
<circle cx="471.6" cy="104.8" r="2.5"/>
<circle cx="473.4" cy="106.1" r="2.5"/>
<circle cx="472.4" cy="107.3" r="2.5"/>
<circle cx="473.5" cy="108.5" r="2.5"/>
<circle cx="473.0" cy="109.8" r="2.5"/>
<circle cx="474.2" cy="111.0" r="2.5"/>
<circle cx="475.4" cy="112.2" r="2.5"/>
<circle cx="474.2" cy="113.5" r="2.5"/>
<circle cx="475.9" cy="114.7" r="2.5"/>
<circle cx="475.7" cy="116.0" r="2.5"/>
<circle cx="476.8" cy="117.2" r="2.5"/>
<circle cx="476.9" cy="118.4" r="2.5"/>
<circle cx="476.3" cy="119.7" r="2.5"/>
<circle cx="478.0" cy="120.9" r="2.5"/>
<circle cx="477.6" cy="122.2" r="2.5"/>
<circle cx="477.1" cy="123.4" r="2.5"/>
<circle cx="477.4" cy="124.6" r="2.5"/>
<circle cx="478.8" cy="125.9" r="2.5"/>
<circle cx="479.1" cy="127.1" r="2.5"/>
<circle cx="479.2" cy="128.4" r="2.5"/>
<circle cx="479.3" cy="129.6" r="2.5"/>
<circle cx="480.1" cy="130.8" r="2.5"/>
<circle cx="480.4" cy="132.1" r="2.5"/>
<circle cx="481.9" cy="133.3" r="2.5"/>
<circle cx="480.6" cy="134.6" r="2.5"/>
<circle cx="482.5" cy="135.8" r="2.5"/>
<circle cx="483.0" cy="137.0" r="2.5"/>
<circle cx="482.0" cy="138.3" r="2.5"/>
<circle cx="484.0" cy="139.5" r="2.5"/>
<circle cx="484.0" cy="140.7" r="2.5"/>
<circle cx="484.7" cy="142.0" r="2.5"/>
<circle cx="483.9" cy="143.2" r="2.5"/>
<circle cx="484.5" cy="144.5" r="2.5"/>
<circle cx="484.9" cy="145.7" r="2.5"/>
<circle cx="486.5" cy="146.9" r="2.5"/>
<circle cx="486.1" cy="148.2" r="2.5"/>
<circle cx="486.0" cy="149.4" r="2.5"/>
<circle cx="486.6" cy="150.6" r="2.5"/>
<circle cx="486.7" cy="151.9" r="2.5"/>
<circle cx="486.6" cy="153.1" r="2.5"/>
<circle cx="487.1" cy="154.4" r="2.5"/>
<circle cx="489.0" cy="155.6" r="2.5"/>
<circle cx="488.3" cy="156.8" r="2.5"/>
<circle cx="490.0" cy="158.1" r="2.5"/>
<circle cx="489.0" cy="159.3" r="2.5"/>
<circle cx="489.4" cy="160.5" r="2.5"/>
<circle cx="490.3" cy="161.8" r="2.5"/>
<circle cx="490.1" cy="163.0" r="2.5"/>
<circle cx="490.9" cy="164.2" r="2.5"/>
<circle cx="492.4" cy="165.5" r="2.5"/>
<circle cx="492.7" cy="166.7" r="2.5"/>
<circle cx="492.9" cy="168.0" r="2.5"/>
<circle cx="493.0" cy="169.2" r="2.5"/>
<circle cx="494.0" cy="170.4" r="2.5"/>
<circle cx="494.4" cy="171.7" r="2.5"/>
<circle cx="494.0" cy="172.9" r="2.5"/>
<circle cx="494.8" cy="174.1" r="2.5"/>
<circle cx="493.8" cy="175.4" r="2.5"/>
<circle cx="495.6" cy="176.6" r="2.5"/>
<circle cx="495.4" cy="177.8" r="2.5"/>
<circle cx="496.5" cy="179.1" r="2.5"/>
<circle cx="496.6" cy="180.3" r="2.5"/>
<circle cx="496.3" cy="181.5" r="2.5"/>
<circle cx="496.3" cy="182.8" r="2.5"/>
<circle cx="498.4" cy="184.0" r="2.5"/>
<circle cx="497.2" cy="185.2" r="2.5"/>
<circle cx="498.3" cy="186.5" r="2.5"/>
<circle cx="498.5" cy="187.7" r="2.5"/>
<circle cx="498.8" cy="188.9" r="2.5"/>
<circle cx="500.1" cy="190.2" r="2.5"/>
<circle cx="501.0" cy="191.4" r="2.5"/>
<circle cx="500.0" cy="192.6" r="2.5"/>
<circle cx="501.2" cy="193.9" r="2.5"/>
<circle cx="500.9" cy="195.1" r="2.5"/>
<circle cx="501.8" cy="196.3" r="2.5"/>
<circle cx="501.9" cy="197.6" r="2.5"/>
<circle cx="501.8" cy="198.8" r="2.5"/>
<circle cx="502.2" cy="200.0" r="2.5"/>
<circle cx="502.7" cy="201.3" r="2.5"/>
<circle cx="504.5" cy="202.5" r="2.5"/>
<circle cx="504.1" cy="203.7" r="2.5"/>
<circle cx="504.0" cy="205.0" r="2.5"/>
<circle cx="505.8" cy="206.2" r="2.5"/>
<circle cx="506.4" cy="207.4" r="2.5"/>
<circle cx="505.7" cy="208.7" r="2.5"/>
<circle cx="505.5" cy="209.9" r="2.5"/>
<circle cx="506.0" cy="211.1" r="2.5"/>
<circle cx="506.2" cy="212.4" r="2.5"/>
<circle cx="507.1" cy="213.6" r="2.5"/>
<circle cx="507.1" cy="214.8" r="2.5"/>
<circle cx="507.8" cy="216.0" r="2.5"/>
<circle cx="508.2" cy="217.3" r="2.5"/>
<circle cx="509.3" cy="218.5" r="2.5"/>
<circle cx="510.3" cy="219.7" r="2.5"/>
<circle cx="510.5" cy="221.0" r="2.5"/>
<circle cx="510.2" cy="222.2" r="2.5"/>
<circle cx="510.6" cy="223.4" r="2.5"/>
<circle cx="511.3" cy="224.6" r="2.5"/>
<circle cx="511.4" cy="225.9" r="2.5"/>
<circle cx="511.8" cy="227.1" r="2.5"/>
<circle cx="511.6" cy="228.3" r="2.5"/>
<circle cx="512.5" cy="229.6" r="2.5"/>
<circle cx="518.3" cy="244.2" r="2.5"/>
<circle cx="518.2" cy="245.4" r="2.5"/>
<circle cx="518.9" cy="246.6" r="2.5"/>
<circle cx="519.4" cy="247.9" r="2.5"/>
<circle cx="519.9" cy="249.1" r="2.5"/>
<circle cx="520.0" cy="250.3" r="2.5"/>
<circle cx="520.5" cy="251.5" r="2.5"/>
<circle cx="520.9" cy="252.8" r="2.5"/>
<circle cx="521.4" cy="254.0" r="2.5"/>
<circle cx="521.9" cy="255.2" r="2.5"/>
<circle cx="522.6" cy="256.4" r="2.5"/>
<circle cx="523.0" cy="257.6" r="2.5"/>
<circle cx="523.4" cy="258.9" r="2.5"/>
<circle cx="523.4" cy="260.1" r="2.5"/>
<circle cx="523.8" cy="261.3" r="2.5"/>
<circle cx="541.5" cy="307.9" r="2.5"/>
<circle cx="542.1" cy="309.1" r="2.5"/>
<circle cx="542.3" cy="310.4" r="2.5"/>
<circle cx="542.9" cy="311.6" r="2.5"/>
<circle cx="543.0" cy="312.8" r="2.5"/>
<circle cx="543.7" cy="314.0" r="2.5"/>
<circle cx="544.5" cy="315.2" r="2.5"/>
<circle cx="544.9" cy="316.4" r="2.5"/>
<circle cx="545.4" cy="317.6" r="2.5"/>
<circle cx="545.9" cy="318.8" r="2.5"/>
<circle cx="546.0" cy="320.0" r="2.5"/>
<circle cx="546.4" cy="321.2" r="2.5"/>
<circle cx="546.9" cy="322.4" r="2.5"/>
<circle cx="547.6" cy="323.6" r="2.5"/>
<circle cx="552.1" cy="334.7" r="2.5"/>
<circle cx="552.8" cy="335.9" r="2.5"/>
<circle cx="553.1" cy="337.1" r="2.5"/>
<circle cx="553.6" cy="338.3" r="2.5"/>
<circle cx="554.1" cy="339.5" r="2.5"/>
<circle cx="554.4" cy="340.7" r="2.5"/>
<circle cx="555.0" cy="341.9" r="2.5"/>
<circle cx="528.0" cy="272.7" r="2.5"/>
<circle cx="528.7" cy="273.8" r="2.5"/>
<circle cx="528.9" cy="275.0" r="2.5"/>
<circle cx="529.6" cy="276.1" r="2.5"/>
<circle cx="529.9" cy="277.2" r="2.5"/>
<circle cx="532.5" cy="284.7" r="2.5"/>
<circle cx="532.9" cy="285.8" r="2.5"/>
<circle cx="533.3" cy="286.9" r="2.5"/>
<circle cx="533.9" cy="288.1" r="2.5"/>
<circle cx="534.4" cy="289.2" r="2.5"/>
<circle cx="534.5" cy="290.3" r="2.5"/>
<circle cx="534.9" cy="291.4" r="2.5"/>
<circle cx="559.5" cy="352.7" r="2.5"/>
<circle cx="560.0" cy="353.8" r="2.5"/>
<circle cx="560.4" cy="354.9" r="2.5"/>
<circle cx="560.8" cy="356.1" r="2.5"/>
<circle cx="561.4" cy="357.2" r="2.5"/>
<circle cx="561.7" cy="358.3" r="2.5"/>
<circle cx="585.6" cy="410.1" r="2.5"/>
<circle cx="586.3" cy="411.3" r="2.5"/>
<circle cx="587.5" cy="412.4" r="2.5"/>
<circle cx="587.7" cy="413.6" r="2.5"/>
<circle cx="588.6" cy="414.8" r="2.5"/>
<circle cx="588.7" cy="415.9" r="2.5"/>
<circle cx="589.0" cy="417.1" r="2.5"/>
<circle cx="589.6" cy="418.2" r="2.5"/>
<circle cx="591.1" cy="419.4" r="2.5"/>
<circle cx="591.3" cy="420.5" r="2.5"/>
<circle cx="591.5" cy="421.7" r="2.5"/>
<circle cx="591.7" cy="422.8" r="2.5"/>
<circle cx="592.9" cy="424.0" r="2.5"/>
<circle cx="593.7" cy="425.1" r="2.5"/>
<circle cx="594.0" cy="426.3" r="2.5"/>
<circle cx="594.4" cy="427.4" r="2.5"/>
<circle cx="595.5" cy="428.6" r="2.5"/>
<circle cx="596.5" cy="429.7" r="2.5"/>
<circle cx="596.2" cy="430.9" r="2.5"/>
<circle cx="596.6" cy="432.0" r="2.5"/>
<circle cx="597.6" cy="433.1" r="2.5"/>
<circle cx="598.3" cy="434.3" r="2.5"/>
<circle cx="599.3" cy="435.4" r="2.5"/>
<circle cx="599.3" cy="436.6" r="2.5"/>
<circle cx="600.7" cy="437.7" r="2.5"/>
<circle cx="601.2" cy="438.8" r="2.5"/>
<circle cx="601.6" cy="440.0" r="2.5"/>
<circle cx="601.8" cy="441.1" r="2.5"/>
<circle cx="603.4" cy="442.2" r="2.5"/>
<circle cx="603.2" cy="443.3" r="2.5"/>
<circle cx="604.5" cy="444.5" r="2.5"/>
<circle cx="604.4" cy="445.6" r="2.5"/>
<circle cx="605.1" cy="446.7" r="2.5"/>
<circle cx="606.4" cy="447.8" r="2.5"/>
<circle cx="606.5" cy="449.0" r="2.5"/>
<circle cx="607.9" cy="450.1" r="2.5"/>
<circle cx="608.0" cy="451.2" r="2.5"/>
<circle cx="608.3" cy="452.3" r="2.5"/>
<circle cx="609.0" cy="453.4" r="2.5"/>
<circle cx="609.9" cy="454.6" r="2.5"/>
<circle cx="610.9" cy="455.7" r="2.5"/>
<circle cx="611.9" cy="456.8" r="2.5"/>
<circle cx="611.6" cy="457.9" r="2.5"/>
<circle cx="612.6" cy="459.0" r="2.5"/>
<circle cx="613.0" cy="460.1" r="2.5"/>
<circle cx="614.6" cy="461.2" r="2.5"/>
<circle cx="614.3" cy="462.3" r="2.5"/>
<circle cx="614.9" cy="463.4" r="2.5"/>
<circle cx="615.6" cy="464.5" r="2.5"/>
<circle cx="616.7" cy="465.6" r="2.5"/>
<circle cx="618.0" cy="466.7" r="2.5"/>
<circle cx="618.7" cy="467.8" r="2.5"/>
<circle cx="619.2" cy="468.9" r="2.5"/>
<circle cx="620.2" cy="470.0" r="2.5"/>
<circle cx="620.8" cy="471.1" r="2.5"/>
<circle cx="620.8" cy="472.1" r="2.5"/>
<circle cx="621.4" cy="473.2" r="2.5"/>
<circle cx="623.0" cy="474.3" r="2.5"/>
<circle cx="623.5" cy="475.4" r="2.5"/>
<circle cx="623.3" cy="476.5" r="2.5"/>
<circle cx="624.8" cy="477.5" r="2.5"/>
<circle cx="625.2" cy="478.6" r="2.5"/>
<circle cx="625.9" cy="479.7" r="2.5"/>
<circle cx="626.6" cy="480.7" r="2.5"/>
<circle cx="627.2" cy="481.8" r="2.5"/>
<circle cx="627.7" cy="482.9" r="2.5"/>
<circle cx="628.8" cy="483.9" r="2.5"/>
<circle cx="629.6" cy="485.0" r="2.5"/>
<circle cx="631.1" cy="486.0" r="2.5"/>
<circle cx="630.9" cy="487.1" r="2.5"/>
<circle cx="632.6" cy="488.2" r="2.5"/>
<circle cx="632.5" cy="489.2" r="2.5"/>
<circle cx="633.4" cy="490.2" r="2.5"/>
<circle cx="634.8" cy="491.3" r="2.5"/>
<circle cx="635.5" cy="492.3" r="2.5"/>
<circle cx="635.8" cy="493.4" r="2.5"/>
<circle cx="636.2" cy="494.4" r="2.5"/>
<circle cx="637.5" cy="495.4" r="2.5"/>
<circle cx="638.1" cy="496.5" r="2.5"/>
<circle cx="639.6" cy="497.5" r="2.5"/>
<circle cx="639.5" cy="498.5" r="2.5"/>
<circle cx="639.9" cy="498.7" r="2.5"/>
<circle cx="641.0" cy="499.7" r="2.5"/>
<circle cx="641.3" cy="500.7" r="2.5"/>
<circle cx="642.4" cy="501.7" r="2.5"/>
<circle cx="643.4" cy="502.8" r="2.5"/>
<circle cx="644.2" cy="503.8" r="2.5"/>
<circle cx="644.6" cy="504.8" r="2.5"/>
<circle cx="645.4" cy="505.8" r="2.5"/>
<circle cx="646.2" cy="506.8" r="2.5"/>
<circle cx="647.6" cy="507.8" r="2.5"/>
<circle cx="648.0" cy="508.8" r="2.5"/>
<circle cx="649.2" cy="509.7" r="2.5"/>
<circle cx="650.1" cy="510.7" r="2.5"/>
<circle cx="650.6" cy="511.7" r="2.5"/>
<circle cx="651.4" cy="512.7" r="2.5"/>
<circle cx="652.7" cy="513.7" r="2.5"/>
<circle cx="653.3" cy="514.6" r="2.5"/>
<circle cx="654.0" cy="515.6" r="2.5"/>
<circle cx="655.1" cy="516.6" r="2.5"/>
<circle cx="655.8" cy="517.5" r="2.5"/>
<circle cx="656.6" cy="518.5" r="2.5"/>
<circle cx="657.3" cy="519.4" r="2.5"/>
<circle cx="658.7" cy="520.4" r="2.5"/>
<circle cx="659.7" cy="521.3" r="2.5"/>
<circle cx="660.4" cy="522.2" r="2.5"/>
<circle cx="661.5" cy="523.2" r="2.5"/>
<circle cx="661.8" cy="524.1" r="2.5"/>
<circle cx="662.9" cy="525.0" r="2.5"/>
<circle cx="663.9" cy="526.0" r="2.5"/>
<circle cx="665.1" cy="526.9" r="2.5"/>
<circle cx="666.1" cy="527.8" r="2.5"/>
<circle cx="666.6" cy="528.7" r="2.5"/>
<circle cx="667.5" cy="529.6" r="2.5"/>
<circle cx="668.5" cy="530.5" r="2.5"/>
<circle cx="669.5" cy="531.4" r="2.5"/>
<circle cx="670.7" cy="532.3" r="2.5"/>
<circle cx="671.2" cy="533.2" r="2.5"/>
<circle cx="672.5" cy="534.0" r="2.5"/>
<circle cx="673.5" cy="534.9" r="2.5"/>
<circle cx="674.5" cy="535.8" r="2.5"/>
<circle cx="675.4" cy="536.6" r="2.5"/>
<circle cx="676.3" cy="537.5" r="2.5"/>
<circle cx="677.1" cy="538.3" r="2.5"/>
<circle cx="678.1" cy="539.2" r="2.5"/>
<circle cx="679.1" cy="540.0" r="2.5"/>
<circle cx="680.3" cy="540.9" r="2.5"/>
<circle cx="680.9" cy="541.7" r="2.5"/>
<circle cx="682.0" cy="542.5" r="2.5"/>
<circle cx="683.3" cy="543.3" r="2.5"/>
<circle cx="688.9" cy="547.9" r="2.5"/>
<circle cx="689.9" cy="548.7" r="2.5"/>
<circle cx="690.9" cy="549.4" r="2.5"/>
<circle cx="692.1" cy="550.2" r="2.5"/>
<circle cx="693.1" cy="551.0" r="2.5"/>
<circle cx="694.4" cy="551.7" r="2.5"/>
<circle cx="695.5" cy="552.5" r="2.5"/>
<circle cx="696.6" cy="553.2" r="2.5"/>
<circle cx="697.3" cy="553.9" r="2.5"/>
<circle cx="698.3" cy="554.7" r="2.5"/>
<circle cx="699.4" cy="555.4" r="2.5"/>
<circle cx="700.7" cy="556.1" r="2.5"/>
<circle cx="701.8" cy="556.8" r="2.5"/>
<circle cx="702.8" cy="557.5" r="2.5"/>
<circle cx="703.8" cy="558.2" r="2.5"/>
<circle cx="705.0" cy="558.9" r="2.5"/>
<circle cx="706.2" cy="559.6" r="2.5"/>
<circle cx="707.3" cy="560.2" r="2.5"/>
<circle cx="708.5" cy="560.9" r="2.5"/>
<circle cx="709.6" cy="561.5" r="2.5"/>
<circle cx="710.7" cy="562.2" r="2.5"/>
<circle cx="711.6" cy="562.8" r="2.5"/>
<circle cx="713.0" cy="563.5" r="2.5"/>
<circle cx="713.9" cy="564.1" r="2.5"/>
<circle cx="715.2" cy="564.7" r="2.5"/>
<circle cx="716.2" cy="565.3" r="2.5"/>
<circle cx="717.5" cy="565.9" r="2.5"/>
<circle cx="718.5" cy="566.5" r="2.5"/>
<circle cx="719.7" cy="567.1" r="2.5"/>
<circle cx="720.8" cy="567.7" r="2.5"/>
<circle cx="721.9" cy="568.3" r="2.5"/>
<circle cx="723.4" cy="568.9" r="2.5"/>
<circle cx="724.4" cy="569.4" r="2.5"/>
<circle cx="725.5" cy="570.0" r="2.5"/>
<circle cx="726.7" cy="570.5" r="2.5"/>
<circle cx="728.1" cy="571.1" r="2.5"/>
<circle cx="729.1" cy="571.6" r="2.5"/>
<circle cx="730.2" cy="572.1" r="2.5"/>
<circle cx="731.6" cy="572.7" r="2.5"/>
<circle cx="732.8" cy="573.2" r="2.5"/>
<circle cx="734.1" cy="573.7" r="2.5"/>
<circle cx="734.9" cy="574.2" r="2.5"/>
<circle cx="736.3" cy="574.7" r="2.5"/>
<circle cx="737.6" cy="575.2" r="2.5"/>
<circle cx="738.8" cy="575.6" r="2.5"/>
<circle cx="740.1" cy="576.1" r="2.5"/>
<circle cx="740.9" cy="576.6" r="2.5"/>
<circle cx="742.3" cy="577.0" r="2.5"/>
<circle cx="743.4" cy="577.5" r="2.5"/>
<circle cx="744.7" cy="577.9" r="2.5"/>
<circle cx="764.4" cy="584.0" r="2.5"/>
<circle cx="765.9" cy="584.3" r="2.5"/>
<circle cx="767.3" cy="584.7" r="2.5"/>
<circle cx="768.8" cy="585.1" r="2.5"/>
<circle cx="770.2" cy="585.4" r="2.5"/>
<circle cx="771.7" cy="585.8" r="2.5"/>
<circle cx="773.1" cy="586.1" r="2.5"/>
<circle cx="774.6" cy="586.5" r="2.5"/>
<circle cx="776.1" cy="586.8" r="2.5"/>
<circle cx="777.5" cy="587.1" r="2.5"/>
<circle cx="779.0" cy="587.4" r="2.5"/>
<circle cx="780.5" cy="587.7" r="2.5"/>
<circle cx="781.9" cy="588.0" r="2.5"/>
<circle cx="95.3" cy="590.8" r="2.5"/>
<circle cx="123.0" cy="585.5" r="2.5"/>
<circle cx="131.9" cy="583.2" r="2.5"/>
<circle cx="138.4" cy="581.3" r="2.5"/>
<circle cx="143.1" cy="579.8" r="2.5"/>
<circle cx="151.7" cy="576.8" r="2.5"/>
<circle cx="162.7" cy="572.3" r="2.5"/>
<circle cx="165.0" cy="571.3" r="2.5"/>
<circle cx="167.0" cy="570.4" r="2.5"/>
<circle cx="169.2" cy="569.3" r="2.5"/>
<circle cx="175.8" cy="566.0" r="2.5"/>
<circle cx="192.0" cy="556.6" r="2.5"/>
<circle cx="515.3" cy="236.4" r="2.5"/>
<circle cx="525.8" cy="266.1" r="2.5"/>
<circle cx="538.0" cy="299.1" r="2.5"/>
<circle cx="539.4" cy="302.7" r="2.5"/>
<circle cx="566.3" cy="368.5" r="2.5"/>
<circle cx="568.0" cy="372.3" r="2.5"/>
<circle cx="570.2" cy="377.2" r="2.5"/>
<circle cx="572.3" cy="381.8" r="2.5"/>
<circle cx="574.0" cy="385.5" r="2.5"/>
<circle cx="576.0" cy="389.8" r="2.5"/>
<circle cx="577.6" cy="393.2" r="2.5"/>
<circle cx="579.2" cy="396.6" r="2.5"/>
<circle cx="580.6" cy="399.5" r="2.5"/>
<circle cx="582.0" cy="402.4" r="2.5"/>
<circle cx="583.4" cy="405.3" r="2.5"/>
<circle cx="584.6" cy="407.7" r="2.5"/>
<circle cx="754.0" cy="581.0" r="2.5"/>
<circle cx="759.2" cy="582.5" r="2.5"/>
<circle cx="788.4" cy="589.2" r="2.5"/>
<circle cx="804.9" cy="591.8" r="2.5"/>
<circle cx="808.8" cy="592.3" r="2.5"/>
<circle cx="811.9" cy="592.7" r="2.5"/>
<circle cx="833.6" cy="594.8" r="2.5"/>
<circle cx="839.4" cy="595.2" r="2.5"/>
<circle cx="855.8" cy="596.2" r="2.5"/>
<circle cx="858.4" cy="596.3" r="2.5"/>
<circle cx="859.7" cy="596.4" r="2.5"/>
<circle cx="876.4" cy="597.1" r="2.5"/>
<circle cx="899.8" cy="597.7" r="2.5"/>
<circle cx="960.3" cy="598.3" r="2.5"/>
</g>
<path d="M95.3 592.4C99.8 591.4 113.4 588.7 122.2 586.4C131.0 584.1 139.6 581.9 148.3 578.5C157.0 575.1 168.0 570.3 174.5 566.3C181.0 562.3 183.8 558.6 187.5 554.5C191.2 550.4 192.8 547.3 196.7 541.4C200.6 535.5 206.0 527.2 211.0 519.2C216.0 511.2 222.3 500.9 226.7 493.1C231.0 485.3 233.2 480.8 237.1 472.2C241.0 463.6 246.2 450.9 250.3 441.5C254.4 432.1 258.0 424.1 261.4 415.7C264.8 407.3 267.9 399.0 270.8 391.0C273.7 383.0 275.8 376.0 278.6 367.5C281.4 359.0 284.8 349.1 287.8 340.0C290.8 330.9 293.6 322.0 296.6 313.0C299.6 304.0 302.6 295.0 305.7 286.0C308.8 277.0 311.6 268.1 314.9 259.0C318.2 249.9 321.5 241.0 325.3 231.5C329.1 222.0 334.0 210.3 337.5 202.0C341.0 193.7 343.6 188.2 346.5 181.5C349.4 174.8 351.8 168.1 354.9 161.5C358.0 154.9 362.3 147.1 365.4 142.0C368.4 136.9 370.0 134.1 373.2 131.2C376.4 128.3 380.9 124.9 384.4 124.4C387.9 123.9 390.8 125.7 394.1 128.0C397.5 130.3 400.6 133.3 404.5 138.4C408.4 143.5 413.7 151.8 417.6 158.5C421.5 165.2 424.7 171.6 428.0 178.8C431.3 186.1 434.3 193.8 437.4 202.0C440.5 210.2 443.2 218.4 446.5 228.0C449.8 237.6 453.7 249.2 457.2 259.5C460.7 269.8 464.2 280.3 467.7 289.7C471.2 299.1 474.6 307.7 478.1 315.8C481.6 323.9 485.1 331.1 488.6 338.5C492.1 345.9 495.4 352.9 499.0 360.2C502.6 367.4 506.8 375.3 510.0 382.0C513.2 388.7 515.2 394.7 518.0 400.5C520.8 406.3 523.3 411.0 527.0 417.0C530.7 423.0 535.2 431.2 540.0 436.6C544.8 442.1 550.5 446.2 555.7 449.7C560.9 453.2 565.7 455.6 571.4 457.5C577.1 459.4 584.0 461.0 589.7 461.4C595.4 461.8 600.2 460.8 605.4 460.1C610.6 459.5 615.8 457.5 621.0 457.5C626.2 457.5 631.9 458.4 636.7 460.1C641.5 461.8 645.4 465.1 649.8 467.9C654.1 470.7 658.0 474.1 662.8 477.1C667.6 480.2 672.8 483.1 678.5 486.2C684.2 489.2 690.7 491.7 696.8 495.4C702.9 499.1 709.4 504.3 715.0 508.4C720.6 512.5 726.3 516.9 730.7 520.2C735.1 523.5 737.7 526.0 741.2 528.0C744.7 530.0 747.5 530.2 751.6 532.5C755.7 534.8 761.0 538.7 765.7 541.9C770.4 545.1 775.0 548.6 780.0 551.8C785.0 555.0 790.0 558.2 795.7 561.0C801.4 563.8 807.0 565.7 814.0 568.3C821.0 570.9 829.7 574.6 837.5 576.6C845.3 578.6 852.7 579.0 861.0 580.5C869.3 582.0 879.3 584.0 887.1 585.8C894.9 587.5 901.0 589.5 908.0 591.0C915.0 592.5 922.9 594.0 929.0 594.9C935.1 595.8 939.4 596.2 944.6 596.5C949.8 596.8 957.7 596.7 960.3 596.7" fill="none" stroke="#a03e4c" stroke-width="1.75" stroke-linejoin="round"/>
<path d="M77.6 5.5 V616.4 H991.1 V5.5" stroke="#3c3c3c" stroke-width="2.0" fill="none"/>
<g stroke="#4a4a4a" stroke-width="2.2" fill="none">
<line x1="66.1" y1="598.5" x2="76.6" y2="598.5"/>
<line x1="66.1" y1="483.4" x2="76.6" y2="483.4"/>
<line x1="66.1" y1="368.3" x2="76.6" y2="368.3"/>
<line x1="66.1" y1="253.1" x2="76.6" y2="253.1"/>
<line x1="66.1" y1="138.0" x2="76.6" y2="138.0"/>
<line x1="66.1" y1="22.9" x2="76.6" y2="22.9"/>
<line x1="992.1" y1="598.5" x2="1001.6" y2="598.5"/>
<line x1="992.1" y1="406.6" x2="1001.6" y2="406.6"/>
<line x1="992.1" y1="214.8" x2="1001.6" y2="214.8"/>
<line x1="992.1" y1="22.9" x2="1001.6" y2="22.9"/>
<line x1="96.1" y1="617.4" x2="96.1" y2="627.9"/>
<line x1="271.4" y1="617.4" x2="271.4" y2="627.9"/>
<line x1="446.7" y1="617.4" x2="446.7" y2="627.9"/>
<line x1="622.0" y1="617.4" x2="622.0" y2="627.9"/>
<line x1="797.3" y1="617.4" x2="797.3" y2="627.9"/>
<line x1="972.6" y1="617.4" x2="972.6" y2="627.9"/>
</g>
<g font-family='"Liberation Sans", Arial, sans-serif' font-size="28" fill="#1a1a1a" stroke="#1a1a1a" stroke-width="0.35" text-anchor="middle">
<text x="96.1" y="660.6">-.01</text>
<text x="271.4" y="660.6">-.005</text>
<text x="446.7" y="660.6">0</text>
<text x="622.0" y="660.6">.005</text>
<text x="797.3" y="660.6">.01</text>
<text x="972.6" y="660.6">.015</text>
<text font-size="27.2" transform="translate(54.5 598.5) scale(1.060 1) rotate(-90)">0</text>
<text font-size="27.2" transform="translate(54.5 483.4) scale(1.060 1) rotate(-90)">.2</text>
<text font-size="27.2" transform="translate(54.5 368.3) scale(1.060 1) rotate(-90)">.4</text>
<text font-size="27.2" transform="translate(54.5 253.1) scale(1.060 1) rotate(-90)">.6</text>
<text font-size="27.2" transform="translate(54.5 138.0) scale(1.060 1) rotate(-90)">.8</text>
<text font-size="27.2" transform="translate(54.5 22.9) scale(1.060 1) rotate(-90)">1</text>
<text font-size="27.2" transform="translate(1035.2 598.5) scale(1.060 1) rotate(-90)">0</text>
<text font-size="27.2" transform="translate(1035.2 406.6) scale(1.060 1) rotate(-90)">50</text>
<text font-size="27.2" transform="translate(1035.2 214.8) scale(1.060 1) rotate(-90)">100</text>
<text font-size="27.2" transform="translate(1035.2 22.9) scale(1.060 1) rotate(-90)">150</text>
<text font-size="28" transform="translate(23.0 310.0) scale(1.060 1) rotate(-90)">p value</text>
<text font-size="28" transform="translate(1061.5 310.8) scale(1.060 1) rotate(-90)">Nuclear density</text>
</g>
<text x="404.0" y="694.8" text-anchor="middle" font-size="30" fill="#1a1a1a"><tspan font-family="'Noto Serif CJK SC', serif">（</tspan><tspan dx="-1.0" font-family="'Liberation Sans', Arial, sans-serif">a</tspan><tspan dx="-1.0" font-family="'Noto Serif CJK SC', serif">）</tspan></text>
<rect x="288.6" y="711.3" width="491.8" height="51.5" fill="#fff" stroke="#555555" stroke-width="2.6"/>
<circle cx="301.8" cy="737.0" r="2.5" fill="none" stroke="#0a0a0a" stroke-width="2.3"/>
<line x1="467.0" y1="737.0" x2="574.8" y2="737.0" stroke="#a03e4c" stroke-width="2"/>
<g font-family='"Liberation Sans", Arial, sans-serif' font-size="28.5" fill="#1a1a1a" stroke="#1a1a1a" stroke-width="0.35">
<text x="321.2" y="747.2">p_balue</text>
<text x="591.8" y="747.2">kdensity beta</text>
</g>
</g>
<g id="chart-b">
<line x1="1179.2" y1="601.0" x2="2084.8" y2="601.0" stroke="#eef3f3" stroke-width="3.0"/>
<line x1="1179.2" y1="486.5" x2="2084.8" y2="486.5" stroke="#eef3f3" stroke-width="3.0"/>
<line x1="1179.2" y1="372.1" x2="2084.8" y2="372.1" stroke="#eef3f3" stroke-width="3.0"/>
<line x1="1179.2" y1="257.6" x2="2084.8" y2="257.6" stroke="#eef3f3" stroke-width="3.0"/>
<line x1="1179.2" y1="143.2" x2="2084.8" y2="143.2" stroke="#eef3f3" stroke-width="3.0"/>
<line x1="1179.2" y1="28.7" x2="2084.8" y2="28.7" stroke="#eef3f3" stroke-width="3.0"/>
<line x1="1179.2" y1="543.8" x2="2084.8" y2="543.8" stroke="#cc5676" stroke-width="3.2"/>
<path d="M1396.8 570.5 L1397.8 569.9 L1398.8 569.4 L1399.8 568.8 L1400.8 568.2 L1401.8 567.6 L1402.8 567.0 L1403.8 566.4 L1404.8 565.8 L1405.8 565.2 L1406.8 564.5 L1407.8 563.9 L1408.8 563.2 L1409.8 562.6 L1410.8 561.9 L1411.8 561.2 L1412.8 560.5 L1413.8 559.8 L1414.8 559.1 L1415.8 558.4 L1416.8 557.7 L1417.8 556.9 L1418.8 556.2 L1419.8 555.4 L1420.8 554.6 L1421.8 553.9 L1422.8 553.1 L1423.8 552.3 L1424.8 551.5 L1425.8 550.6 L1426.8 549.8 L1427.8 548.9 L1428.8 548.1 L1429.8 547.2 L1430.8 546.3 L1431.8 545.4 L1432.8 544.5 L1433.8 543.6 L1434.8 542.7 L1435.8 541.7 L1436.8 540.8 L1437.8 539.8 L1438.8 538.8 L1439.8 537.8 L1440.8 536.8 L1441.8 535.8 L1442.8 534.8 L1443.8 533.8 L1444.8 532.7 L1445.8 531.6 L1446.8 530.6 L1447.8 529.5 L1448.8 528.4 L1449.8 527.2 L1450.8 526.1 L1451.8 525.0 L1452.8 523.8 L1453.8 522.6 L1454.8 521.4 L1455.8 520.2 L1456.8 519.0 L1457.8 517.8 L1458.8 516.6 L1459.8 515.3 L1460.8 514.0 L1461.8 512.8 L1462.8 511.5 L1463.8 510.1 L1464.8 508.8 L1465.8 507.5 L1466.8 506.1 L1467.8 504.7 L1468.8 503.4 L1469.8 501.9 L1470.8 500.5 L1471.8 499.1 L1472.8 497.7 L1473.8 496.2 L1474.8 494.7 L1475.8 493.2 L1476.8 491.7 L1477.8 490.2 L1478.8 488.6 L1479.8 487.1 L1480.8 485.5 L1481.8 483.9 L1482.8 482.3 L1483.8 480.7 L1484.8 479.1 L1485.8 477.4 L1486.8 475.8 L1487.8 474.1 L1488.8 472.4 L1489.8 470.7 L1490.8 468.9 L1491.8 467.2 L1492.8 465.4 L1493.8 463.7 L1494.8 461.9 L1495.8 460.0 L1496.8 458.2 L1497.8 456.4 L1498.8 454.5 L1499.8 452.6 L1500.8 450.7 L1501.8 448.8 L1502.8 446.9 L1503.8 445.0 L1504.8 443.0 L1505.8 441.0 L1506.8 439.0 L1507.8 437.0 L1508.8 435.0 L1509.8 432.9 L1510.8 430.9 L1511.8 428.8 L1512.8 426.7 L1513.8 424.6 L1514.8 422.4 L1515.8 420.3 L1516.8 418.1 L1517.8 416.0 L1518.8 413.8 L1519.8 411.5 L1520.8 409.3 L1521.8 407.1 L1522.8 404.8 L1523.8 402.5 L1524.8 400.2 L1525.8 397.9 L1526.8 395.6 L1527.8 393.2 L1528.8 390.9 L1529.8 388.5 L1530.8 386.1 L1531.8 383.7 L1532.8 381.2 L1533.8 378.8 L1534.8 376.3 L1535.8 373.8 L1536.8 371.3 L1537.8 368.8 L1538.8 366.3 L1539.8 363.7 L1540.8 361.2 L1541.8 358.6 L1542.8 356.0 L1543.8 353.4 L1544.8 350.8 L1545.8 348.1 L1546.8 345.5 L1547.8 342.8 L1548.8 340.1 L1549.8 337.4 L1550.8 334.7 L1551.8 331.9 L1552.8 329.2 L1553.8 326.4 L1554.8 323.6 L1555.8 320.8 L1556.8 318.0 L1557.8 315.2 L1558.8 312.3 L1559.8 309.5 L1560.0 308.9" fill="none" stroke="#0a0a0a" stroke-width="12.2" stroke-linecap="round" stroke-linejoin="round"/>
<path d="M1560.0 308.9 L1561.0 306.0 L1562.0 303.1 L1563.0 300.2 L1564.0 297.3 L1565.0 294.3 L1566.0 291.4 L1567.0 288.4 L1568.0 285.4 L1569.0 282.5 L1570.0 279.5 L1571.0 276.4 L1572.0 273.4 L1573.0 270.4 L1574.0 267.3 L1575.0 264.2 L1576.0 261.1 L1577.0 258.0 L1578.0 254.9 L1579.0 251.8 L1580.0 248.7 L1581.0 245.5 L1582.0 242.3 L1583.0 239.2 L1584.0 236.0 L1585.0 232.8 L1586.0 229.6 L1587.0 226.4 L1588.0 223.1 L1589.0 219.9 L1590.0 216.6 L1591.0 213.4 L1592.0 210.1 L1593.0 206.8 L1594.0 203.5 L1595.0 200.2 L1596.0 196.9 L1597.0 193.6 L1598.0 190.2 L1599.0 186.9 L1600.0 183.5 L1601.0 180.2 L1602.0 176.8 L1603.0 173.4 L1604.0 170.0 L1605.0 166.6 L1606.0 163.2 L1607.0 159.8 L1608.0 156.4 L1609.0 153.0 L1610.0 149.5 L1611.0 146.1 L1612.0 142.6 L1613.0 139.2 L1614.0 135.7 L1615.0 132.3 L1616.0 128.8 L1617.0 125.3" fill="none" stroke="#0a0a0a" stroke-width="12.6" stroke-linecap="round" stroke-linejoin="round"/>
<path d="M1617.0 125.3 L1618.0 121.8 L1619.0 118.3 L1620.0 114.8 L1621.0 111.3 L1622.0 107.8 L1623.0 104.3 L1624.0 100.8 L1625.0 97.2 L1626.0 93.7 L1627.0 90.2 L1628.0 86.7 L1629.0 83.1 L1630.0 79.6 L1631.0 76.0 L1632.0 72.5 L1633.0 68.9 L1634.0 65.4 L1635.0 61.8 L1636.0 58.3 L1637.0 54.7 L1638.0 51.2 L1639.0 47.6 L1640.0 44.0 L1641.0 40.5 L1642.0 36.9 L1643.0 33.3 L1644.0 29.8 L1645.0 31.2 L1646.0 34.8 L1647.0 38.3 L1648.0 41.9 L1649.0 45.5 L1650.0 49.0 L1651.0 52.6 L1652.0 56.1 L1653.0 59.7 L1654.0 63.2 L1655.0 66.8 L1656.0 70.4 L1657.0 73.9 L1658.0 77.4 L1659.0 81.0 L1660.0 84.5 L1661.0 88.1 L1662.0 91.6 L1663.0 95.1 L1664.0 98.7 L1665.0 102.2 L1666.0 105.7 L1667.0 109.2 L1668.0 112.7 L1669.0 116.2 L1670.0 119.7 L1671.0 123.2 L1672.0 126.7 L1673.0 130.2 L1674.0 133.6" fill="none" stroke="#0a0a0a" stroke-width="14.0" stroke-linecap="round" stroke-linejoin="round"/>
<path d="M1674.0 133.6 L1675.0 137.1 L1676.0 140.6 L1677.0 144.0 L1678.0 147.5 L1679.0 150.9 L1680.0 154.3 L1681.0 157.8 L1682.0 161.2 L1683.0 164.6 L1684.0 168.0 L1685.0 171.4 L1686.0 174.8 L1687.0 178.2 L1688.0 181.5 L1689.0 184.9 L1690.0 188.2 L1691.0 191.6 L1692.0 194.9 L1693.0 198.2 L1694.0 201.5 L1695.0 204.8 L1696.0 208.1 L1697.0 211.4 L1698.0 214.7 L1699.0 217.9 L1700.0 221.2 L1701.0 224.4 L1702.0 227.7 L1703.0 230.9 L1704.0 234.1 L1705.0 237.3 L1706.0 240.4 L1707.0 243.6 L1708.0 246.8 L1709.0 249.9 L1710.0 253.0 L1711.0 256.2 L1712.0 259.3 L1713.0 262.4 L1714.0 265.4 L1715.0 268.5 L1716.0 271.6 L1717.0 274.6 L1718.0 277.6 L1719.0 280.7 L1720.0 283.7 L1721.0 286.6 L1722.0 289.6 L1723.0 292.6 L1724.0 295.5 L1725.0 298.4 L1726.0 301.4 L1727.0 304.3 L1728.0 307.2 L1729.0 310.0 L1730.0 312.9 L1731.0 315.7 L1732.0 318.6 L1733.0 321.4 L1734.0 324.2 L1735.0 326.9 L1736.0 329.7 L1737.0 332.5 L1738.0 335.2 L1739.0 337.9 L1740.0 340.6 L1741.0 343.3 L1742.0 346.0 L1743.0 348.6 L1744.0 351.3 L1745.0 353.9 L1746.0 356.5 L1747.0 359.1 L1748.0 361.7 L1749.0 364.3 L1750.0 366.8 L1751.0 369.3 L1752.0 371.8 L1753.0 374.3 L1754.0 376.8 L1755.0 379.3 L1756.0 381.7 L1757.0 384.1 L1758.0 386.6 L1759.0 389.0 L1760.0 391.3" fill="none" stroke="#0a0a0a" stroke-width="12.2" stroke-linecap="round" stroke-linejoin="round"/>
<path d="M1760.0 391.3 L1761.0 393.7 L1762.0 396.0 L1763.0 398.4 L1764.0 400.7 L1765.0 403.0 L1766.0 405.3 L1767.0 407.5 L1768.0 409.8 L1769.0 412.0 L1770.0 414.2 L1771.0 416.4 L1772.0 418.6 L1773.0 420.7 L1774.0 422.9 L1775.0 425.0 L1776.0 427.1 L1777.0 429.2 L1778.0 431.3 L1779.0 433.3 L1780.0 435.4 L1781.0 437.4 L1782.0 439.4 L1783.0 441.4 L1784.0 443.4 L1785.0 445.3 L1786.0 447.3 L1787.0 449.2 L1788.0 451.1 L1789.0 453.0 L1790.0 454.9 L1791.0 456.7 L1792.0 458.6 L1793.0 460.4 L1794.0 462.2 L1795.0 464.0 L1796.0 465.8 L1797.0 467.5 L1798.0 469.3 L1799.0 471.0 L1800.0 472.7 L1801.0 474.4 L1802.0 476.1 L1803.0 477.8 L1804.0 479.4 L1805.0 481.0 L1806.0 482.7 L1807.0 484.3 L1808.0 485.8 L1809.0 487.4 L1810.0 489.0 L1811.0 490.5 L1812.0 492.0 L1813.0 493.5 L1814.0 495.0 L1815.0 496.5 L1816.0 497.9 L1817.0 499.4 L1818.0 500.8 L1819.0 502.2 L1820.0 503.6 L1821.0 505.0 L1822.0 506.4 L1823.0 507.7 L1824.0 509.1 L1825.0 510.4 L1826.0 511.7 L1827.0 513.0 L1828.0 514.3 L1829.0 515.6 L1830.0 516.8 L1831.0 518.1 L1832.0 519.3 L1833.0 520.5 L1834.0 521.7 L1835.0 522.9 L1836.0 524.0 L1837.0 525.2 L1838.0 526.3 L1839.0 527.5 L1840.0 528.6 L1841.0 529.7 L1842.0 530.8 L1843.0 531.9 L1844.0 532.9 L1845.0 534.0 L1846.0 535.0 L1847.0 536.0 L1848.0 537.0 L1849.0 538.0 L1850.0 539.0 L1851.0 540.0 L1852.0 541.0 L1853.0 541.9 L1854.0 542.9 L1855.0 543.8 L1856.0 544.7 L1857.0 545.6 L1858.0 546.5 L1859.0 547.4 L1860.0 548.3 L1861.0 549.1 L1862.0 550.0 L1863.0 550.8 L1864.0 551.6 L1865.0 552.4 L1866.0 553.2 L1867.0 554.0 L1868.0 554.8 L1869.0 555.6 L1870.0 556.3 L1871.0 557.1 L1872.0 557.8 L1873.0 558.6 L1874.0 559.3 L1875.0 560.0 L1876.0 560.7 L1877.0 561.4 L1878.0 562.0 L1879.0 562.7 L1880.0 563.4 L1881.0 564.0 L1882.0 564.7 L1883.0 565.3 L1884.0 565.9 L1885.0 566.5 L1886.0 567.1 L1887.0 567.7 L1888.0 568.3 L1889.0 568.9 L1890.0 569.5 L1891.0 570.0 L1892.0 570.6 L1893.0 571.1 L1894.0 571.7 L1895.0 572.2 L1896.0 572.7 L1897.0 573.2 L1898.0 573.7 L1899.0 574.2 L1900.0 574.7 L1901.0 575.2 L1902.0 575.7 L1903.0 576.2 L1904.0 576.6 L1904.9 577.0" fill="none" stroke="#0a0a0a" stroke-width="11.8" stroke-linecap="round" stroke-linejoin="round"/>
<g fill="none" stroke="#0a0a0a" stroke-width="2.6">
<circle cx="1341.9" cy="590.6" r="4.5"/>
<circle cx="1345.1" cy="589.8" r="4.5"/>
<circle cx="1348.3" cy="589.1" r="4.5"/>
<circle cx="1351.5" cy="588.3" r="4.5"/>
<circle cx="1354.7" cy="587.4" r="4.5"/>
<circle cx="1357.9" cy="586.5" r="4.5"/>
<circle cx="1361.1" cy="585.5" r="4.5"/>
<circle cx="1364.2" cy="584.5" r="4.5"/>
<circle cx="1367.4" cy="583.5" r="4.5"/>
<circle cx="1370.5" cy="582.4" r="4.5"/>
<circle cx="1373.6" cy="581.2" r="4.5"/>
<circle cx="1376.7" cy="580.0" r="4.5"/>
<circle cx="1379.7" cy="578.8" r="4.5"/>
<circle cx="1382.8" cy="577.4" r="4.5"/>
<circle cx="1396.8" cy="570.5" r="4.5"/>
<circle cx="1398.2" cy="569.5" r="4.5"/>
<circle cx="1400.0" cy="568.5" r="4.5"/>
<circle cx="1401.9" cy="567.5" r="4.5"/>
<circle cx="1403.8" cy="566.5" r="4.5"/>
<circle cx="1405.6" cy="565.4" r="4.5"/>
<circle cx="1406.8" cy="564.3" r="4.5"/>
<circle cx="1408.6" cy="563.2" r="4.5"/>
<circle cx="1410.7" cy="562.1" r="4.5"/>
<circle cx="1412.1" cy="561.0" r="4.5"/>
<circle cx="1413.6" cy="559.8" r="4.5"/>
<circle cx="1415.3" cy="558.7" r="4.5"/>
<circle cx="1417.4" cy="557.5" r="4.5"/>
<circle cx="1418.5" cy="556.3" r="4.5"/>
<circle cx="1420.3" cy="555.1" r="4.5"/>
<circle cx="1421.7" cy="553.8" r="4.5"/>
<circle cx="1423.3" cy="552.6" r="4.5"/>
<circle cx="1425.3" cy="551.3" r="4.5"/>
<circle cx="1426.9" cy="550.0" r="4.5"/>
<circle cx="1427.9" cy="548.7" r="4.5"/>
<circle cx="1429.3" cy="547.4" r="4.5"/>
<circle cx="1431.3" cy="546.1" r="4.5"/>
<circle cx="1432.3" cy="544.7" r="4.5"/>
<circle cx="1433.6" cy="543.4" r="4.5"/>
<circle cx="1435.8" cy="542.0" r="4.5"/>
<circle cx="1436.9" cy="540.6" r="4.5"/>
<circle cx="1438.7" cy="539.2" r="4.5"/>
<circle cx="1439.8" cy="537.8" r="4.5"/>
<circle cx="1441.6" cy="536.4" r="4.5"/>
<circle cx="1442.6" cy="534.9" r="4.5"/>
<circle cx="1443.8" cy="533.5" r="4.5"/>
<circle cx="1445.0" cy="532.0" r="4.5"/>
<circle cx="1446.8" cy="530.6" r="4.5"/>
<circle cx="1448.3" cy="529.1" r="4.5"/>
<circle cx="1449.8" cy="527.6" r="4.5"/>
<circle cx="1450.5" cy="526.1" r="4.5"/>
<circle cx="1452.2" cy="524.6" r="4.5"/>
<circle cx="1453.3" cy="523.0" r="4.5"/>
<circle cx="1454.7" cy="521.5" r="4.5"/>
<circle cx="1455.7" cy="520.0" r="4.5"/>
<circle cx="1457.1" cy="518.4" r="4.5"/>
<circle cx="1458.6" cy="516.9" r="4.5"/>
<circle cx="1460.2" cy="515.3" r="4.5"/>
<circle cx="1460.7" cy="513.7" r="4.5"/>
<circle cx="1462.3" cy="512.1" r="4.5"/>
<circle cx="1463.8" cy="510.5" r="4.5"/>
<circle cx="1465.1" cy="508.9" r="4.5"/>
<circle cx="1465.7" cy="507.3" r="4.5"/>
<circle cx="1466.8" cy="505.7" r="4.5"/>
<circle cx="1468.6" cy="504.1" r="4.5"/>
<circle cx="1469.8" cy="502.4" r="4.5"/>
<circle cx="1470.6" cy="500.8" r="4.5"/>
<circle cx="1471.4" cy="499.1" r="4.5"/>
<circle cx="1473.3" cy="497.5" r="4.5"/>
<circle cx="1474.0" cy="495.8" r="4.5"/>
<circle cx="1475.5" cy="494.2" r="4.5"/>
<circle cx="1476.4" cy="492.5" r="4.5"/>
<circle cx="1477.6" cy="490.8" r="4.5"/>
<circle cx="1478.2" cy="489.1" r="4.5"/>
<circle cx="1479.8" cy="487.5" r="4.5"/>
<circle cx="1480.4" cy="485.8" r="4.5"/>
<circle cx="1481.6" cy="484.1" r="4.5"/>
<circle cx="1483.1" cy="482.4" r="4.5"/>
<circle cx="1484.1" cy="480.7" r="4.5"/>
<circle cx="1484.6" cy="478.9" r="4.5"/>
<circle cx="1485.7" cy="477.2" r="4.5"/>
<circle cx="1486.9" cy="475.5" r="4.5"/>
<circle cx="1488.0" cy="473.8" r="4.5"/>
<circle cx="1488.9" cy="472.0" r="4.5"/>
<circle cx="1489.7" cy="470.3" r="4.5"/>
<circle cx="1490.8" cy="468.6" r="4.5"/>
<circle cx="1492.2" cy="466.8" r="4.5"/>
<circle cx="1493.3" cy="465.1" r="4.5"/>
<circle cx="1493.6" cy="463.3" r="4.5"/>
<circle cx="1495.0" cy="461.6" r="4.5"/>
<circle cx="1496.1" cy="459.8" r="4.5"/>
<circle cx="1496.5" cy="458.1" r="4.5"/>
<circle cx="1498.1" cy="456.3" r="4.5"/>
<circle cx="1498.5" cy="454.5" r="4.5"/>
<circle cx="1499.8" cy="452.8" r="4.5"/>
<circle cx="1500.7" cy="451.0" r="4.5"/>
<circle cx="1501.7" cy="449.2" r="4.5"/>
<circle cx="1502.4" cy="447.4" r="4.5"/>
<circle cx="1503.4" cy="445.6" r="4.5"/>
<circle cx="1504.4" cy="443.9" r="4.5"/>
<circle cx="1505.2" cy="442.1" r="4.5"/>
<circle cx="1506.3" cy="440.3" r="4.5"/>
<circle cx="1507.0" cy="438.5" r="4.5"/>
<circle cx="1507.9" cy="436.7" r="4.5"/>
<circle cx="1508.5" cy="434.9" r="4.5"/>
<circle cx="1509.8" cy="433.1" r="4.5"/>
<circle cx="1510.6" cy="431.3" r="4.5"/>
<circle cx="1511.3" cy="429.5" r="4.5"/>
<circle cx="1512.5" cy="427.7" r="4.5"/>
<circle cx="1513.4" cy="425.9" r="4.5"/>
<circle cx="1514.0" cy="424.0" r="4.5"/>
<circle cx="1514.7" cy="422.2" r="4.5"/>
<circle cx="1515.7" cy="420.4" r="4.5"/>
<circle cx="1516.3" cy="418.6" r="4.5"/>
<circle cx="1517.1" cy="416.8" r="4.5"/>
<circle cx="1518.2" cy="414.9" r="4.5"/>
<circle cx="1518.8" cy="413.1" r="4.5"/>
<circle cx="1519.9" cy="411.3" r="4.5"/>
<circle cx="1520.7" cy="409.5" r="4.5"/>
<circle cx="1521.2" cy="407.6" r="4.5"/>
<circle cx="1522.5" cy="405.8" r="4.5"/>
<circle cx="1522.8" cy="404.0" r="4.5"/>
<circle cx="1524.2" cy="402.1" r="4.5"/>
<circle cx="1525.0" cy="400.3" r="4.5"/>
<circle cx="1525.6" cy="398.4" r="4.5"/>
<circle cx="1526.0" cy="396.6" r="4.5"/>
<circle cx="1527.2" cy="394.8" r="4.5"/>
<circle cx="1527.8" cy="392.9" r="4.5"/>
<circle cx="1529.1" cy="391.1" r="4.5"/>
<circle cx="1529.2" cy="389.2" r="4.5"/>
<circle cx="1530.6" cy="387.4" r="4.5"/>
<circle cx="1531.4" cy="385.5" r="4.5"/>
<circle cx="1532.0" cy="383.7" r="4.5"/>
<circle cx="1532.8" cy="381.8" r="4.5"/>
<circle cx="1533.1" cy="379.9" r="4.5"/>
<circle cx="1534.5" cy="378.1" r="4.5"/>
<circle cx="1534.8" cy="376.2" r="4.5"/>
<circle cx="1535.9" cy="374.4" r="4.5"/>
<circle cx="1536.7" cy="372.5" r="4.5"/>
<circle cx="1536.8" cy="370.7" r="4.5"/>
<circle cx="1538.0" cy="368.8" r="4.5"/>
<circle cx="1538.9" cy="366.9" r="4.5"/>
<circle cx="1538.9" cy="365.1" r="4.5"/>
<circle cx="1539.9" cy="363.2" r="4.5"/>
<circle cx="1540.9" cy="361.3" r="4.5"/>
<circle cx="1541.2" cy="359.5" r="4.5"/>
<circle cx="1542.5" cy="357.6" r="4.5"/>
<circle cx="1542.7" cy="355.7" r="4.5"/>
<circle cx="1543.9" cy="353.9" r="4.5"/>
<circle cx="1544.1" cy="352.0" r="4.5"/>
<circle cx="1545.0" cy="350.1" r="4.5"/>
<circle cx="1546.1" cy="348.2" r="4.5"/>
<circle cx="1546.2" cy="346.4" r="4.5"/>
<circle cx="1547.0" cy="344.5" r="4.5"/>
<circle cx="1547.9" cy="342.6" r="4.5"/>
<circle cx="1548.4" cy="340.7" r="4.5"/>
<circle cx="1548.9" cy="338.8" r="4.5"/>
<circle cx="1549.7" cy="337.0" r="4.5"/>
<circle cx="1550.4" cy="335.1" r="4.5"/>
<circle cx="1551.7" cy="333.2" r="4.5"/>
<circle cx="1552.2" cy="331.3" r="4.5"/>
<circle cx="1553.0" cy="329.4" r="4.5"/>
<circle cx="1553.1" cy="327.6" r="4.5"/>
<circle cx="1554.3" cy="325.7" r="4.5"/>
<circle cx="1554.4" cy="323.8" r="4.5"/>
<circle cx="1555.4" cy="321.9" r="4.5"/>
<circle cx="1556.2" cy="320.0" r="4.5"/>
<circle cx="1556.6" cy="318.1" r="4.5"/>
<circle cx="1557.7" cy="316.2" r="4.5"/>
<circle cx="1558.1" cy="314.3" r="4.5"/>
<circle cx="1558.8" cy="312.5" r="4.5"/>
<circle cx="1559.7" cy="310.6" r="4.5"/>
<circle cx="1559.5" cy="308.9" r="4.5"/>
<circle cx="1561.2" cy="307.0" r="4.5"/>
<circle cx="1561.5" cy="305.1" r="4.5"/>
<circle cx="1561.8" cy="303.2" r="4.5"/>
<circle cx="1563.0" cy="301.3" r="4.5"/>
<circle cx="1563.0" cy="299.4" r="4.5"/>
<circle cx="1564.5" cy="297.5" r="4.5"/>
<circle cx="1564.7" cy="295.6" r="4.5"/>
<circle cx="1565.0" cy="293.7" r="4.5"/>
<circle cx="1566.2" cy="291.8" r="4.5"/>
<circle cx="1566.4" cy="289.9" r="4.5"/>
<circle cx="1566.7" cy="288.0" r="4.5"/>
<circle cx="1568.1" cy="286.1" r="4.5"/>
<circle cx="1567.9" cy="284.2" r="4.5"/>
<circle cx="1569.4" cy="282.3" r="4.5"/>
<circle cx="1569.4" cy="280.4" r="4.5"/>
<circle cx="1570.5" cy="278.5" r="4.5"/>
<circle cx="1571.5" cy="276.6" r="4.5"/>
<circle cx="1571.7" cy="274.7" r="4.5"/>
<circle cx="1572.4" cy="272.8" r="4.5"/>
<circle cx="1572.6" cy="270.9" r="4.5"/>
<circle cx="1572.8" cy="269.0" r="4.5"/>
<circle cx="1573.5" cy="267.1" r="4.5"/>
<circle cx="1574.3" cy="265.2" r="4.5"/>
<circle cx="1575.4" cy="263.3" r="4.5"/>
<circle cx="1575.8" cy="261.4" r="4.5"/>
<circle cx="1576.5" cy="259.5" r="4.5"/>
<circle cx="1577.6" cy="257.6" r="4.5"/>
<circle cx="1577.3" cy="255.7" r="4.5"/>
<circle cx="1578.0" cy="253.8" r="4.5"/>
<circle cx="1579.2" cy="251.9" r="4.5"/>
<circle cx="1579.0" cy="250.0" r="4.5"/>
<circle cx="1579.6" cy="248.1" r="4.5"/>
<circle cx="1580.6" cy="246.2" r="4.5"/>
<circle cx="1580.9" cy="244.2" r="4.5"/>
<circle cx="1581.8" cy="242.3" r="4.5"/>
<circle cx="1582.3" cy="240.4" r="4.5"/>
<circle cx="1583.3" cy="238.5" r="4.5"/>
<circle cx="1583.9" cy="236.6" r="4.5"/>
<circle cx="1584.1" cy="234.7" r="4.5"/>
<circle cx="1585.2" cy="232.8" r="4.5"/>
<circle cx="1585.6" cy="230.9" r="4.5"/>
<circle cx="1585.8" cy="229.0" r="4.5"/>
<circle cx="1587.3" cy="227.1" r="4.5"/>
<circle cx="1587.1" cy="225.1" r="4.5"/>
<circle cx="1587.6" cy="223.2" r="4.5"/>
<circle cx="1588.1" cy="221.3" r="4.5"/>
<circle cx="1589.3" cy="219.4" r="4.5"/>
<circle cx="1590.2" cy="217.5" r="4.5"/>
<circle cx="1590.7" cy="215.6" r="4.5"/>
<circle cx="1590.8" cy="213.7" r="4.5"/>
<circle cx="1591.2" cy="211.7" r="4.5"/>
<circle cx="1591.5" cy="209.8" r="4.5"/>
<circle cx="1592.8" cy="207.9" r="4.5"/>
<circle cx="1593.3" cy="206.0" r="4.5"/>
<circle cx="1593.6" cy="204.1" r="4.5"/>
<circle cx="1594.6" cy="202.2" r="4.5"/>
<circle cx="1594.9" cy="200.3" r="4.5"/>
<circle cx="1596.1" cy="198.3" r="4.5"/>
<circle cx="1596.4" cy="196.4" r="4.5"/>
<circle cx="1596.4" cy="194.5" r="4.5"/>
<circle cx="1597.8" cy="192.6" r="4.5"/>
<circle cx="1597.3" cy="190.7" r="4.5"/>
<circle cx="1598.5" cy="188.8" r="4.5"/>
<circle cx="1598.9" cy="186.8" r="4.5"/>
<circle cx="1599.3" cy="184.9" r="4.5"/>
<circle cx="1599.6" cy="183.0" r="4.5"/>
<circle cx="1601.1" cy="181.1" r="4.5"/>
<circle cx="1600.7" cy="179.2" r="4.5"/>
<circle cx="1601.9" cy="177.2" r="4.5"/>
<circle cx="1603.0" cy="175.3" r="4.5"/>
<circle cx="1602.6" cy="173.4" r="4.5"/>
<circle cx="1603.2" cy="171.5" r="4.5"/>
<circle cx="1604.3" cy="169.6" r="4.5"/>
<circle cx="1604.7" cy="167.6" r="4.5"/>
<circle cx="1605.4" cy="165.7" r="4.5"/>
<circle cx="1606.2" cy="163.8" r="4.5"/>
<circle cx="1606.0" cy="161.9" r="4.5"/>
<circle cx="1606.7" cy="160.0" r="4.5"/>
<circle cx="1607.3" cy="158.0" r="4.5"/>
<circle cx="1607.5" cy="156.1" r="4.5"/>
<circle cx="1609.1" cy="154.2" r="4.5"/>
<circle cx="1609.5" cy="152.3" r="4.5"/>
<circle cx="1610.0" cy="150.4" r="4.5"/>
<circle cx="1609.7" cy="148.4" r="4.5"/>
<circle cx="1611.3" cy="146.5" r="4.5"/>
<circle cx="1611.7" cy="144.6" r="4.5"/>
<circle cx="1611.9" cy="142.7" r="4.5"/>
<circle cx="1612.8" cy="140.8" r="4.5"/>
<circle cx="1613.0" cy="138.8" r="4.5"/>
<circle cx="1613.3" cy="136.9" r="4.5"/>
<circle cx="1613.7" cy="135.0" r="4.5"/>
<circle cx="1614.4" cy="133.1" r="4.5"/>
<circle cx="1614.8" cy="131.1" r="4.5"/>
<circle cx="1615.7" cy="129.2" r="4.5"/>
<circle cx="1616.7" cy="127.3" r="4.5"/>
<circle cx="1617.2" cy="125.4" r="4.5"/>
<circle cx="1617.9" cy="125.3" r="4.5"/>
<circle cx="1618.1" cy="123.4" r="4.5"/>
<circle cx="1617.5" cy="121.4" r="4.5"/>
<circle cx="1618.8" cy="119.5" r="4.5"/>
<circle cx="1619.0" cy="117.6" r="4.5"/>
<circle cx="1620.5" cy="115.7" r="4.5"/>
<circle cx="1620.4" cy="113.8" r="4.5"/>
<circle cx="1620.2" cy="111.8" r="4.5"/>
<circle cx="1621.8" cy="109.9" r="4.5"/>
<circle cx="1623.2" cy="108.0" r="4.5"/>
<circle cx="1621.8" cy="106.1" r="4.5"/>
<circle cx="1624.0" cy="104.1" r="4.5"/>
<circle cx="1622.3" cy="102.2" r="4.5"/>
<circle cx="1623.5" cy="100.3" r="4.5"/>
<circle cx="1624.0" cy="98.4" r="4.5"/>
<circle cx="1625.9" cy="96.4" r="4.5"/>
<circle cx="1626.9" cy="94.5" r="4.5"/>
<circle cx="1627.0" cy="92.6" r="4.5"/>
<circle cx="1626.4" cy="90.7" r="4.5"/>
<circle cx="1628.4" cy="88.7" r="4.5"/>
<circle cx="1627.5" cy="86.8" r="4.5"/>
<circle cx="1627.8" cy="84.9" r="4.5"/>
<circle cx="1630.1" cy="83.0" r="4.5"/>
<circle cx="1629.9" cy="81.0" r="4.5"/>
<circle cx="1630.6" cy="79.1" r="4.5"/>
<circle cx="1631.1" cy="77.2" r="4.5"/>
<circle cx="1632.5" cy="75.3" r="4.5"/>
<circle cx="1631.7" cy="73.3" r="4.5"/>
<circle cx="1633.2" cy="71.4" r="4.5"/>
<circle cx="1633.4" cy="69.5" r="4.5"/>
<circle cx="1634.3" cy="67.6" r="4.5"/>
<circle cx="1633.8" cy="65.6" r="4.5"/>
<circle cx="1635.1" cy="63.7" r="4.5"/>
<circle cx="1635.2" cy="61.8" r="4.5"/>
<circle cx="1635.1" cy="59.9" r="4.5"/>
<circle cx="1635.3" cy="57.9" r="4.5"/>
<circle cx="1637.0" cy="56.0" r="4.5"/>
<circle cx="1636.1" cy="54.1" r="4.5"/>
<circle cx="1638.8" cy="52.2" r="4.5"/>
<circle cx="1637.3" cy="50.2" r="4.5"/>
<circle cx="1637.6" cy="48.3" r="4.5"/>
<circle cx="1638.3" cy="46.4" r="4.5"/>
<circle cx="1641.0" cy="44.4" r="4.5"/>
<circle cx="1640.0" cy="42.5" r="4.5"/>
<circle cx="1640.0" cy="40.6" r="4.5"/>
<circle cx="1640.3" cy="38.7" r="4.5"/>
<circle cx="1640.9" cy="36.7" r="4.5"/>
<circle cx="1643.1" cy="34.8" r="4.5"/>
<circle cx="1643.5" cy="32.9" r="4.5"/>
<circle cx="1644.2" cy="31.0" r="4.5"/>
<circle cx="1644.8" cy="29.0" r="4.5"/>
<circle cx="1644.7" cy="34.2" r="4.5"/>
<circle cx="1646.6" cy="36.2" r="4.5"/>
<circle cx="1646.6" cy="38.1" r="4.5"/>
<circle cx="1648.3" cy="40.0" r="4.5"/>
<circle cx="1648.8" cy="41.9" r="4.5"/>
<circle cx="1649.6" cy="43.9" r="4.5"/>
<circle cx="1648.0" cy="45.8" r="4.5"/>
<circle cx="1650.6" cy="47.7" r="4.5"/>
<circle cx="1651.3" cy="49.6" r="4.5"/>
<circle cx="1651.9" cy="51.6" r="4.5"/>
<circle cx="1650.2" cy="53.5" r="4.5"/>
<circle cx="1651.0" cy="55.4" r="4.5"/>
<circle cx="1651.3" cy="57.3" r="4.5"/>
<circle cx="1651.7" cy="59.3" r="4.5"/>
<circle cx="1654.3" cy="61.2" r="4.5"/>
<circle cx="1654.8" cy="63.1" r="4.5"/>
<circle cx="1654.9" cy="65.0" r="4.5"/>
<circle cx="1655.9" cy="67.0" r="4.5"/>
<circle cx="1655.9" cy="68.9" r="4.5"/>
<circle cx="1655.6" cy="70.8" r="4.5"/>
<circle cx="1655.6" cy="72.7" r="4.5"/>
<circle cx="1656.2" cy="74.7" r="4.5"/>
<circle cx="1658.4" cy="76.6" r="4.5"/>
<circle cx="1657.5" cy="78.5" r="4.5"/>
<circle cx="1658.4" cy="80.4" r="4.5"/>
<circle cx="1659.2" cy="82.4" r="4.5"/>
<circle cx="1658.7" cy="84.3" r="4.5"/>
<circle cx="1659.8" cy="86.2" r="4.5"/>
<circle cx="1660.5" cy="88.1" r="4.5"/>
<circle cx="1662.1" cy="90.1" r="4.5"/>
<circle cx="1661.8" cy="92.0" r="4.5"/>
<circle cx="1662.2" cy="93.9" r="4.5"/>
<circle cx="1664.4" cy="95.8" r="4.5"/>
<circle cx="1663.8" cy="97.7" r="4.5"/>
<circle cx="1665.2" cy="99.7" r="4.5"/>
<circle cx="1665.1" cy="101.6" r="4.5"/>
<circle cx="1664.2" cy="103.5" r="4.5"/>
<circle cx="1665.7" cy="105.4" r="4.5"/>
<circle cx="1666.3" cy="107.4" r="4.5"/>
<circle cx="1667.7" cy="109.3" r="4.5"/>
<circle cx="1667.2" cy="111.2" r="4.5"/>
<circle cx="1668.7" cy="113.1" r="4.5"/>
<circle cx="1668.8" cy="115.1" r="4.5"/>
<circle cx="1668.5" cy="117.0" r="4.5"/>
<circle cx="1670.7" cy="118.9" r="4.5"/>
<circle cx="1669.3" cy="120.8" r="4.5"/>
<circle cx="1671.7" cy="122.7" r="4.5"/>
<circle cx="1670.6" cy="124.7" r="4.5"/>
<circle cx="1670.7" cy="126.6" r="4.5"/>
<circle cx="1671.7" cy="128.5" r="4.5"/>
<circle cx="1673.8" cy="130.4" r="4.5"/>
<circle cx="1674.9" cy="132.4" r="4.5"/>
<circle cx="1673.5" cy="133.6" r="4.5"/>
<circle cx="1674.5" cy="135.6" r="4.5"/>
<circle cx="1675.1" cy="137.5" r="4.5"/>
<circle cx="1676.0" cy="139.4" r="4.5"/>
<circle cx="1675.9" cy="141.3" r="4.5"/>
<circle cx="1676.8" cy="143.2" r="4.5"/>
<circle cx="1677.2" cy="145.2" r="4.5"/>
<circle cx="1678.2" cy="147.1" r="4.5"/>
<circle cx="1678.2" cy="149.0" r="4.5"/>
<circle cx="1679.4" cy="150.9" r="4.5"/>
<circle cx="1679.3" cy="152.8" r="4.5"/>
<circle cx="1679.8" cy="154.8" r="4.5"/>
<circle cx="1680.9" cy="156.7" r="4.5"/>
<circle cx="1681.2" cy="158.6" r="4.5"/>
<circle cx="1681.4" cy="160.5" r="4.5"/>
<circle cx="1682.5" cy="162.4" r="4.5"/>
<circle cx="1682.5" cy="164.4" r="4.5"/>
<circle cx="1683.8" cy="166.3" r="4.5"/>
<circle cx="1684.3" cy="168.2" r="4.5"/>
<circle cx="1684.9" cy="170.1" r="4.5"/>
<circle cx="1685.3" cy="172.0" r="4.5"/>
<circle cx="1685.6" cy="173.9" r="4.5"/>
<circle cx="1686.2" cy="175.9" r="4.5"/>
<circle cx="1686.8" cy="177.8" r="4.5"/>
<circle cx="1687.8" cy="179.7" r="4.5"/>
<circle cx="1687.6" cy="181.6" r="4.5"/>
<circle cx="1689.0" cy="183.5" r="4.5"/>
<circle cx="1688.7" cy="185.4" r="4.5"/>
<circle cx="1689.4" cy="187.4" r="4.5"/>
<circle cx="1690.1" cy="189.3" r="4.5"/>
<circle cx="1691.3" cy="191.2" r="4.5"/>
<circle cx="1691.5" cy="193.1" r="4.5"/>
<circle cx="1691.9" cy="195.0" r="4.5"/>
<circle cx="1693.0" cy="196.9" r="4.5"/>
<circle cx="1692.9" cy="198.8" r="4.5"/>
<circle cx="1693.7" cy="200.7" r="4.5"/>
<circle cx="1694.4" cy="202.7" r="4.5"/>
<circle cx="1695.2" cy="204.6" r="4.5"/>
<circle cx="1695.8" cy="206.5" r="4.5"/>
<circle cx="1696.2" cy="208.4" r="4.5"/>
<circle cx="1696.5" cy="210.3" r="4.5"/>
<circle cx="1697.1" cy="212.2" r="4.5"/>
<circle cx="1697.5" cy="214.1" r="4.5"/>
<circle cx="1698.8" cy="216.0" r="4.5"/>
<circle cx="1699.2" cy="218.0" r="4.5"/>
<circle cx="1699.8" cy="219.9" r="4.5"/>
<circle cx="1699.8" cy="221.8" r="4.5"/>
<circle cx="1700.7" cy="223.7" r="4.5"/>
<circle cx="1701.6" cy="225.6" r="4.5"/>
<circle cx="1702.0" cy="227.5" r="4.5"/>
<circle cx="1702.2" cy="229.4" r="4.5"/>
<circle cx="1703.1" cy="231.3" r="4.5"/>
<circle cx="1704.1" cy="233.2" r="4.5"/>
<circle cx="1704.1" cy="235.1" r="4.5"/>
<circle cx="1704.6" cy="237.0" r="4.5"/>
<circle cx="1705.3" cy="238.9" r="4.5"/>
<circle cx="1706.3" cy="240.8" r="4.5"/>
<circle cx="1707.1" cy="242.8" r="4.5"/>
<circle cx="1707.0" cy="244.7" r="4.5"/>
<circle cx="1707.6" cy="246.6" r="4.5"/>
<circle cx="1708.3" cy="248.5" r="4.5"/>
<circle cx="1709.0" cy="250.4" r="4.5"/>
<circle cx="1709.8" cy="252.3" r="4.5"/>
<circle cx="1710.0" cy="254.2" r="4.5"/>
<circle cx="1710.8" cy="256.1" r="4.5"/>
<circle cx="1711.3" cy="258.0" r="4.5"/>
<circle cx="1712.7" cy="259.9" r="4.5"/>
<circle cx="1713.0" cy="261.8" r="4.5"/>
<circle cx="1713.0" cy="263.7" r="4.5"/>
<circle cx="1714.5" cy="265.6" r="4.5"/>
<circle cx="1714.3" cy="267.5" r="4.5"/>
<circle cx="1715.2" cy="269.4" r="4.5"/>
<circle cx="1716.4" cy="271.3" r="4.5"/>
<circle cx="1716.8" cy="273.2" r="4.5"/>
<circle cx="1717.4" cy="275.1" r="4.5"/>
<circle cx="1717.7" cy="277.0" r="4.5"/>
<circle cx="1718.1" cy="278.9" r="4.5"/>
<circle cx="1719.2" cy="280.8" r="4.5"/>
<circle cx="1719.3" cy="282.7" r="4.5"/>
<circle cx="1720.0" cy="284.6" r="4.5"/>
<circle cx="1720.8" cy="286.4" r="4.5"/>
<circle cx="1721.1" cy="288.3" r="4.5"/>
<circle cx="1722.1" cy="290.2" r="4.5"/>
<circle cx="1723.1" cy="292.1" r="4.5"/>
<circle cx="1723.7" cy="294.0" r="4.5"/>
<circle cx="1724.1" cy="295.9" r="4.5"/>
<circle cx="1724.9" cy="297.8" r="4.5"/>
<circle cx="1725.4" cy="299.7" r="4.5"/>
<circle cx="1725.7" cy="301.6" r="4.5"/>
<circle cx="1726.8" cy="303.5" r="4.5"/>
<circle cx="1727.3" cy="305.4" r="4.5"/>
<circle cx="1728.3" cy="307.2" r="4.5"/>
<circle cx="1729.1" cy="309.1" r="4.5"/>
<circle cx="1729.3" cy="311.0" r="4.5"/>
<circle cx="1730.1" cy="312.9" r="4.5"/>
<circle cx="1730.9" cy="314.8" r="4.5"/>
<circle cx="1731.3" cy="316.7" r="4.5"/>
<circle cx="1731.7" cy="318.5" r="4.5"/>
<circle cx="1732.9" cy="320.4" r="4.5"/>
<circle cx="1733.7" cy="322.3" r="4.5"/>
<circle cx="1734.3" cy="324.2" r="4.5"/>
<circle cx="1734.9" cy="326.1" r="4.5"/>
<circle cx="1735.7" cy="327.9" r="4.5"/>
<circle cx="1736.2" cy="329.8" r="4.5"/>
<circle cx="1736.9" cy="331.7" r="4.5"/>
<circle cx="1737.4" cy="333.6" r="4.5"/>
<circle cx="1737.9" cy="335.4" r="4.5"/>
<circle cx="1738.9" cy="337.3" r="4.5"/>
<circle cx="1739.1" cy="339.2" r="4.5"/>
<circle cx="1740.1" cy="341.1" r="4.5"/>
<circle cx="1741.1" cy="342.9" r="4.5"/>
<circle cx="1741.8" cy="344.8" r="4.5"/>
<circle cx="1742.4" cy="346.7" r="4.5"/>
<circle cx="1742.7" cy="348.5" r="4.5"/>
<circle cx="1743.6" cy="350.4" r="4.5"/>
<circle cx="1744.3" cy="352.3" r="4.5"/>
<circle cx="1745.2" cy="354.1" r="4.5"/>
<circle cx="1745.7" cy="356.0" r="4.5"/>
<circle cx="1746.7" cy="357.9" r="4.5"/>
<circle cx="1747.7" cy="359.7" r="4.5"/>
<circle cx="1747.6" cy="361.6" r="4.5"/>
<circle cx="1748.8" cy="363.5" r="4.5"/>
<circle cx="1749.7" cy="365.3" r="4.5"/>
<circle cx="1750.0" cy="367.2" r="4.5"/>
<circle cx="1750.9" cy="369.0" r="4.5"/>
<circle cx="1752.1" cy="370.9" r="4.5"/>
<circle cx="1751.9" cy="372.7" r="4.5"/>
<circle cx="1753.1" cy="374.6" r="4.5"/>
<circle cx="1753.5" cy="376.4" r="4.5"/>
<circle cx="1754.9" cy="378.3" r="4.5"/>
<circle cx="1755.8" cy="380.1" r="4.5"/>
<circle cx="1756.1" cy="382.0" r="4.5"/>
<circle cx="1756.5" cy="383.8" r="4.5"/>
<circle cx="1757.7" cy="385.7" r="4.5"/>
<circle cx="1758.4" cy="387.5" r="4.5"/>
<circle cx="1759.4" cy="389.4" r="4.5"/>
<circle cx="1760.0" cy="391.2" r="4.5"/>
<circle cx="1760.1" cy="391.3" r="4.5"/>
<circle cx="1761.0" cy="393.2" r="4.5"/>
<circle cx="1761.6" cy="395.0" r="4.5"/>
<circle cx="1762.3" cy="396.8" r="4.5"/>
<circle cx="1763.4" cy="398.7" r="4.5"/>
<circle cx="1763.7" cy="400.5" r="4.5"/>
<circle cx="1764.8" cy="402.3" r="4.5"/>
<circle cx="1765.5" cy="404.2" r="4.5"/>
<circle cx="1766.5" cy="406.0" r="4.5"/>
<circle cx="1766.9" cy="407.8" r="4.5"/>
<circle cx="1768.2" cy="409.6" r="4.5"/>
<circle cx="1768.7" cy="411.5" r="4.5"/>
<circle cx="1769.3" cy="413.3" r="4.5"/>
<circle cx="1770.3" cy="415.1" r="4.5"/>
<circle cx="1771.2" cy="416.9" r="4.5"/>
<circle cx="1771.8" cy="418.7" r="4.5"/>
<circle cx="1772.9" cy="420.5" r="4.5"/>
<circle cx="1773.7" cy="422.3" r="4.5"/>
<circle cx="1774.7" cy="424.1" r="4.5"/>
<circle cx="1775.4" cy="425.9" r="4.5"/>
<circle cx="1776.2" cy="427.7" r="4.5"/>
<circle cx="1777.0" cy="429.5" r="4.5"/>
<circle cx="1778.2" cy="431.3" r="4.5"/>
<circle cx="1779.2" cy="433.1" r="4.5"/>
<circle cx="1779.8" cy="434.9" r="4.5"/>
<circle cx="1780.5" cy="436.7" r="4.5"/>
<circle cx="1781.7" cy="438.5" r="4.5"/>
<circle cx="1782.4" cy="440.3" r="4.5"/>
<circle cx="1783.2" cy="442.1" r="4.5"/>
<circle cx="1784.0" cy="443.8" r="4.5"/>
<circle cx="1785.3" cy="445.6" r="4.5"/>
<circle cx="1786.2" cy="447.4" r="4.5"/>
<circle cx="1787.1" cy="449.2" r="4.5"/>
<circle cx="1787.9" cy="450.9" r="4.5"/>
<circle cx="1788.9" cy="452.7" r="4.5"/>
<circle cx="1789.6" cy="454.4" r="4.5"/>
<circle cx="1791.0" cy="456.2" r="4.5"/>
<circle cx="1791.6" cy="458.0" r="4.5"/>
<circle cx="1792.7" cy="459.7" r="4.5"/>
<circle cx="1793.8" cy="461.5" r="4.5"/>
<circle cx="1794.7" cy="463.2" r="4.5"/>
<circle cx="1795.5" cy="464.9" r="4.5"/>
<circle cx="1796.4" cy="466.7" r="4.5"/>
<circle cx="1797.5" cy="468.4" r="4.5"/>
<circle cx="1798.3" cy="470.1" r="4.5"/>
<circle cx="1799.7" cy="471.8" r="4.5"/>
<circle cx="1800.4" cy="473.6" r="4.5"/>
<circle cx="1801.7" cy="475.3" r="4.5"/>
<circle cx="1802.4" cy="477.0" r="4.5"/>
<circle cx="1803.5" cy="478.7" r="4.5"/>
<circle cx="1804.5" cy="480.4" r="4.5"/>
<circle cx="1805.6" cy="482.1" r="4.5"/>
<circle cx="1806.5" cy="483.8" r="4.5"/>
<circle cx="1807.5" cy="485.5" r="4.5"/>
<circle cx="1809.0" cy="487.2" r="4.5"/>
<circle cx="1809.8" cy="488.8" r="4.5"/>
<circle cx="1810.8" cy="490.5" r="4.5"/>
<circle cx="1812.0" cy="492.2" r="4.5"/>
<circle cx="1813.2" cy="493.8" r="4.5"/>
<circle cx="1814.3" cy="495.5" r="4.5"/>
<circle cx="1815.5" cy="497.1" r="4.5"/>
<circle cx="1816.7" cy="498.8" r="4.5"/>
<circle cx="1817.6" cy="500.4" r="4.5"/>
<circle cx="1819.1" cy="502.0" r="4.5"/>
<circle cx="1820.2" cy="503.6" r="4.5"/>
<circle cx="1820.9" cy="505.3" r="4.5"/>
<circle cx="1822.5" cy="506.9" r="4.5"/>
<circle cx="1823.8" cy="508.5" r="4.5"/>
<circle cx="1824.9" cy="510.1" r="4.5"/>
<circle cx="1825.7" cy="511.6" r="4.5"/>
<circle cx="1827.4" cy="513.2" r="4.5"/>
<circle cx="1828.5" cy="514.8" r="4.5"/>
<circle cx="1829.3" cy="516.3" r="4.5"/>
<circle cx="1830.6" cy="517.9" r="4.5"/>
<circle cx="1832.4" cy="519.4" r="4.5"/>
<circle cx="1833.5" cy="521.0" r="4.5"/>
<circle cx="1834.5" cy="522.5" r="4.5"/>
<circle cx="1835.7" cy="524.0" r="4.5"/>
<circle cx="1837.1" cy="525.5" r="4.5"/>
<circle cx="1838.4" cy="527.0" r="4.5"/>
<circle cx="1840.1" cy="528.5" r="4.5"/>
<circle cx="1841.2" cy="530.0" r="4.5"/>
<circle cx="1842.4" cy="531.4" r="4.5"/>
<circle cx="1844.2" cy="532.9" r="4.5"/>
<circle cx="1845.5" cy="534.3" r="4.5"/>
<circle cx="1846.5" cy="535.8" r="4.5"/>
<circle cx="1848.4" cy="537.2" r="4.5"/>
<circle cx="1849.6" cy="538.6" r="4.5"/>
<circle cx="1851.1" cy="540.0" r="4.5"/>
<circle cx="1852.5" cy="541.4" r="4.5"/>
<circle cx="1854.1" cy="542.7" r="4.5"/>
<circle cx="1855.5" cy="544.1" r="4.5"/>
<circle cx="1857.0" cy="545.4" r="4.5"/>
<circle cx="1858.1" cy="546.7" r="4.5"/>
<circle cx="1859.9" cy="548.0" r="4.5"/>
<circle cx="1861.3" cy="549.3" r="4.5"/>
<circle cx="1862.9" cy="550.6" r="4.5"/>
<circle cx="1864.3" cy="551.9" r="4.5"/>
<circle cx="1866.1" cy="553.1" r="4.5"/>
<circle cx="1867.5" cy="554.4" r="4.5"/>
<circle cx="1868.9" cy="555.6" r="4.5"/>
<circle cx="1870.5" cy="556.8" r="4.5"/>
<circle cx="1872.0" cy="558.0" r="4.5"/>
<circle cx="1873.8" cy="559.2" r="4.5"/>
<circle cx="1875.2" cy="560.3" r="4.5"/>
<circle cx="1877.1" cy="561.4" r="4.5"/>
<circle cx="1878.5" cy="562.6" r="4.5"/>
<circle cx="1880.4" cy="563.6" r="4.5"/>
<circle cx="1882.1" cy="564.7" r="4.5"/>
<circle cx="1883.8" cy="565.8" r="4.5"/>
<circle cx="1885.7" cy="566.8" r="4.5"/>
<circle cx="1886.9" cy="567.9" r="4.5"/>
<circle cx="1889.1" cy="568.9" r="4.5"/>
<circle cx="1890.6" cy="569.8" r="4.5"/>
<circle cx="1892.4" cy="570.8" r="4.5"/>
<circle cx="1894.2" cy="571.8" r="4.5"/>
<circle cx="1896.1" cy="572.7" r="4.5"/>
<circle cx="1897.6" cy="573.6" r="4.5"/>
<circle cx="1899.4" cy="574.5" r="4.5"/>
<circle cx="1901.5" cy="575.3" r="4.5"/>
<circle cx="1902.8" cy="576.2" r="4.5"/>
<circle cx="1905.0" cy="577.0" r="4.5"/>
<circle cx="1196.3" cy="600.7" r="4.5"/>
<circle cx="1213.3" cy="600.6" r="4.5"/>
<circle cx="1235.9" cy="600.2" r="4.5"/>
<circle cx="1253.0" cy="599.7" r="4.5"/>
<circle cx="1280.5" cy="598.4" r="4.5"/>
<circle cx="1299.4" cy="596.9" r="4.5"/>
<circle cx="1317.1" cy="594.9" r="4.5"/>
<circle cx="1322.3" cy="594.2" r="4.5"/>
<circle cx="1326.8" cy="593.5" r="4.5"/>
<circle cx="1388.9" cy="574.6" r="4.5"/>
<circle cx="1918.7" cy="582.6" r="4.5"/>
<circle cx="1925.8" cy="585.0" r="4.5"/>
<circle cx="1929.5" cy="586.1" r="4.5"/>
<circle cx="1934.1" cy="587.5" r="4.5"/>
<circle cx="1938.5" cy="588.6" r="4.5"/>
<circle cx="1942.7" cy="589.7" r="4.5"/>
<circle cx="1946.7" cy="590.6" r="4.5"/>
<circle cx="1950.5" cy="591.4" r="4.5"/>
<circle cx="1954.5" cy="592.2" r="4.5"/>
<circle cx="1958.5" cy="592.9" r="4.5"/>
<circle cx="1962.3" cy="593.5" r="4.5"/>
<circle cx="1967.0" cy="594.3" r="4.5"/>
<circle cx="1971.5" cy="594.9" r="4.5"/>
<circle cx="1991.1" cy="597.1" r="4.5"/>
<circle cx="2002.8" cy="598.1" r="4.5"/>
<circle cx="2012.0" cy="598.7" r="4.5"/>
<circle cx="2014.6" cy="598.8" r="4.5"/>
<circle cx="2017.2" cy="598.9" r="4.5"/>
<circle cx="2047.8" cy="600.1" r="4.5"/>
<circle cx="2049.2" cy="600.1" r="4.5"/>
<circle cx="2066.8" cy="600.4" r="4.5"/>
</g>
<path d="M1194.4 595.5C1198.5 595.2 1208.6 594.1 1219.2 593.7C1229.8 593.3 1247.4 593.3 1258.3 592.9C1269.2 592.5 1278.0 591.8 1284.5 591.1C1291.0 590.4 1292.3 590.0 1297.5 588.5C1302.7 587.0 1309.3 584.5 1315.8 581.9C1322.3 579.3 1331.5 575.4 1336.7 572.8C1341.9 570.2 1342.8 569.1 1347.1 566.3C1351.4 563.5 1357.1 559.9 1362.8 555.8C1368.5 551.6 1375.4 546.4 1381.1 541.4C1386.8 536.4 1391.6 531.7 1396.8 525.8C1402.0 519.9 1408.1 512.1 1412.4 506.2C1416.8 500.3 1419.4 496.6 1422.9 490.5C1426.4 484.4 1430.0 476.9 1433.3 469.6C1436.6 462.3 1439.8 452.9 1443.0 446.5C1446.2 440.1 1448.2 437.4 1452.2 431.2C1456.2 424.9 1462.2 416.6 1467.0 409.0C1471.8 401.4 1476.9 392.4 1481.0 385.8C1485.1 379.2 1487.5 374.9 1491.4 369.3C1495.3 363.7 1500.6 358.6 1504.5 352.3C1508.4 346.0 1511.0 337.9 1514.9 331.4C1518.8 324.9 1524.5 318.3 1528.0 313.1C1531.5 307.9 1532.8 306.2 1535.8 300.1C1538.8 294.0 1543.2 283.9 1546.3 276.6C1549.3 269.3 1551.3 263.0 1554.1 256.5C1556.9 250.0 1560.2 243.6 1563.2 237.5C1566.2 231.4 1569.4 225.3 1572.2 220.1C1575.0 214.9 1577.4 210.8 1580.0 206.5C1582.6 202.2 1585.5 198.1 1587.9 194.0C1590.3 189.9 1592.3 186.7 1594.5 182.0C1596.7 177.3 1598.7 171.5 1601.0 166.0C1603.3 160.5 1604.9 154.7 1608.1 148.8C1611.2 142.9 1616.0 135.3 1619.9 130.5C1623.8 125.7 1628.1 122.0 1631.6 119.8C1635.1 117.6 1637.9 117.4 1641.0 117.5C1644.1 117.6 1647.3 118.9 1650.4 120.5C1653.5 122.1 1656.8 125.8 1659.8 126.9C1662.8 128.0 1665.3 126.3 1668.1 126.9C1670.8 127.5 1673.8 128.5 1676.3 130.4C1678.8 132.3 1680.9 135.3 1683.3 138.6C1685.7 141.9 1687.8 144.2 1690.4 150.4C1693.1 156.7 1695.6 166.2 1699.2 176.1C1702.8 186.0 1707.9 199.2 1712.2 210.1C1716.5 221.0 1721.0 231.0 1725.3 241.4C1729.6 251.8 1733.9 261.8 1738.3 272.7C1742.7 283.6 1747.6 295.5 1751.4 306.7C1755.2 317.9 1758.3 331.4 1761.3 340.0C1764.3 348.6 1765.7 351.8 1769.2 358.3C1772.7 364.8 1777.4 373.1 1782.2 379.2C1787.0 385.3 1792.7 389.6 1797.9 394.8C1803.1 400.0 1808.4 404.0 1813.6 410.5C1818.8 417.0 1824.0 425.3 1829.2 434.0C1834.4 442.7 1840.8 455.1 1844.9 462.8C1849.0 470.5 1850.8 474.5 1854.0 480.0C1857.2 485.5 1860.5 490.0 1864.4 495.7C1868.3 501.4 1873.2 508.4 1877.5 514.0C1881.8 519.6 1886.6 525.9 1890.5 529.6C1894.4 533.3 1896.7 533.8 1901.0 536.1C1905.3 538.4 1911.4 540.7 1916.6 543.5C1921.8 546.3 1926.6 550.2 1932.3 553.1C1938.0 556.0 1944.5 559.0 1950.6 561.0C1956.7 563.0 1963.7 563.2 1968.9 564.9C1974.1 566.6 1977.6 569.0 1981.9 571.4C1986.2 573.8 1990.2 577.2 1995.0 579.2C1999.8 581.2 2005.0 582.1 2010.7 583.2C2016.4 584.3 2022.8 584.9 2028.9 585.8C2035.0 586.7 2042.0 587.4 2047.2 588.4C2052.4 589.4 2057.0 590.9 2060.3 591.8C2063.6 592.7 2065.7 593.3 2066.8 593.6" fill="none" stroke="#a03e4c" stroke-width="1.75" stroke-linejoin="round"/>
<path d="M1179.2 10.5 V619.0 H2084.8 V10.5" stroke="#3c3c3c" stroke-width="2.0" fill="none"/>
<g stroke="#4a4a4a" stroke-width="2.2" fill="none">
<line x1="1167.7" y1="601.0" x2="1178.2" y2="601.0"/>
<line x1="1167.7" y1="486.5" x2="1178.2" y2="486.5"/>
<line x1="1167.7" y1="372.1" x2="1178.2" y2="372.1"/>
<line x1="1167.7" y1="257.6" x2="1178.2" y2="257.6"/>
<line x1="1167.7" y1="143.2" x2="1178.2" y2="143.2"/>
<line x1="1167.7" y1="28.7" x2="1178.2" y2="28.7"/>
<line x1="2085.8" y1="601.0" x2="2095.3" y2="601.0"/>
<line x1="2085.8" y1="410.2" x2="2095.3" y2="410.2"/>
<line x1="2085.8" y1="219.5" x2="2095.3" y2="219.5"/>
<line x1="2085.8" y1="28.7" x2="2095.3" y2="28.7"/>
<line x1="1253.8" y1="620.0" x2="1253.8" y2="630.5"/>
<line x1="1449.0" y1="620.0" x2="1449.0" y2="630.5"/>
<line x1="1644.3" y1="620.0" x2="1644.3" y2="630.5"/>
<line x1="1839.5" y1="620.0" x2="1839.5" y2="630.5"/>
<line x1="2034.8" y1="620.0" x2="2034.8" y2="630.5"/>
</g>
<g font-family='"Liberation Sans", Arial, sans-serif' font-size="28" fill="#1a1a1a" stroke="#1a1a1a" stroke-width="0.35" text-anchor="middle">
<text x="1253.8" y="662.6">-.01</text>
<text x="1449.0" y="662.6">-.005</text>
<text x="1644.3" y="662.6">0</text>
<text x="1839.5" y="662.6">.005</text>
<text x="2034.8" y="662.6">.01</text>
<text font-size="27.2" transform="translate(1156.0 601.0) scale(1.060 1) rotate(-90)">0</text>
<text font-size="27.2" transform="translate(1156.0 486.5) scale(1.060 1) rotate(-90)">.2</text>
<text font-size="27.2" transform="translate(1156.0 372.1) scale(1.060 1) rotate(-90)">.4</text>
<text font-size="27.2" transform="translate(1156.0 257.6) scale(1.060 1) rotate(-90)">.6</text>
<text font-size="27.2" transform="translate(1156.0 143.2) scale(1.060 1) rotate(-90)">.8</text>
<text font-size="27.2" transform="translate(1156.0 28.7) scale(1.060 1) rotate(-90)">1</text>
<text font-size="27.2" transform="translate(2128.7 601.0) scale(1.060 1) rotate(-90)">0</text>
<text font-size="27.2" transform="translate(2128.7 410.2) scale(1.060 1) rotate(-90)">50</text>
<text font-size="27.2" transform="translate(2128.7 219.5) scale(1.060 1) rotate(-90)">100</text>
<text font-size="27.2" transform="translate(2128.7 28.7) scale(1.060 1) rotate(-90)">150</text>
<text font-size="28" transform="translate(1125.0 315.5) scale(1.060 1) rotate(-90)">p value</text>
<text font-size="28" transform="translate(2155.5 315.4) scale(1.060 1) rotate(-90)">Nuclear density</text>
</g>
<text x="1505.0" y="695.2" text-anchor="middle" font-size="30" fill="#1a1a1a"><tspan font-family="'Noto Serif CJK SC', serif">（</tspan><tspan dx="-2.0" font-family="'Liberation Sans', Arial, sans-serif">b</tspan><tspan dx="-2.0" font-family="'Noto Serif CJK SC', serif">）</tspan></text>
<rect x="1385.9" y="712.5" width="491.3" height="50.7" fill="#fff" stroke="#555555" stroke-width="2.6"/>
<circle cx="1401.8" cy="738.2" r="4.5" fill="none" stroke="#0a0a0a" stroke-width="2.6"/>
<line x1="1567.8" y1="738.2" x2="1674.3" y2="738.2" stroke="#a03e4c" stroke-width="2"/>
<g font-family='"Liberation Sans", Arial, sans-serif' font-size="28.5" fill="#1a1a1a" stroke="#1a1a1a" stroke-width="0.35">
<text x="1422.8" y="747.8">p_balue</text>
<text x="1691.0" y="747.8">kdensity beta</text>
</g>
</g>
</svg>
</body></html>
